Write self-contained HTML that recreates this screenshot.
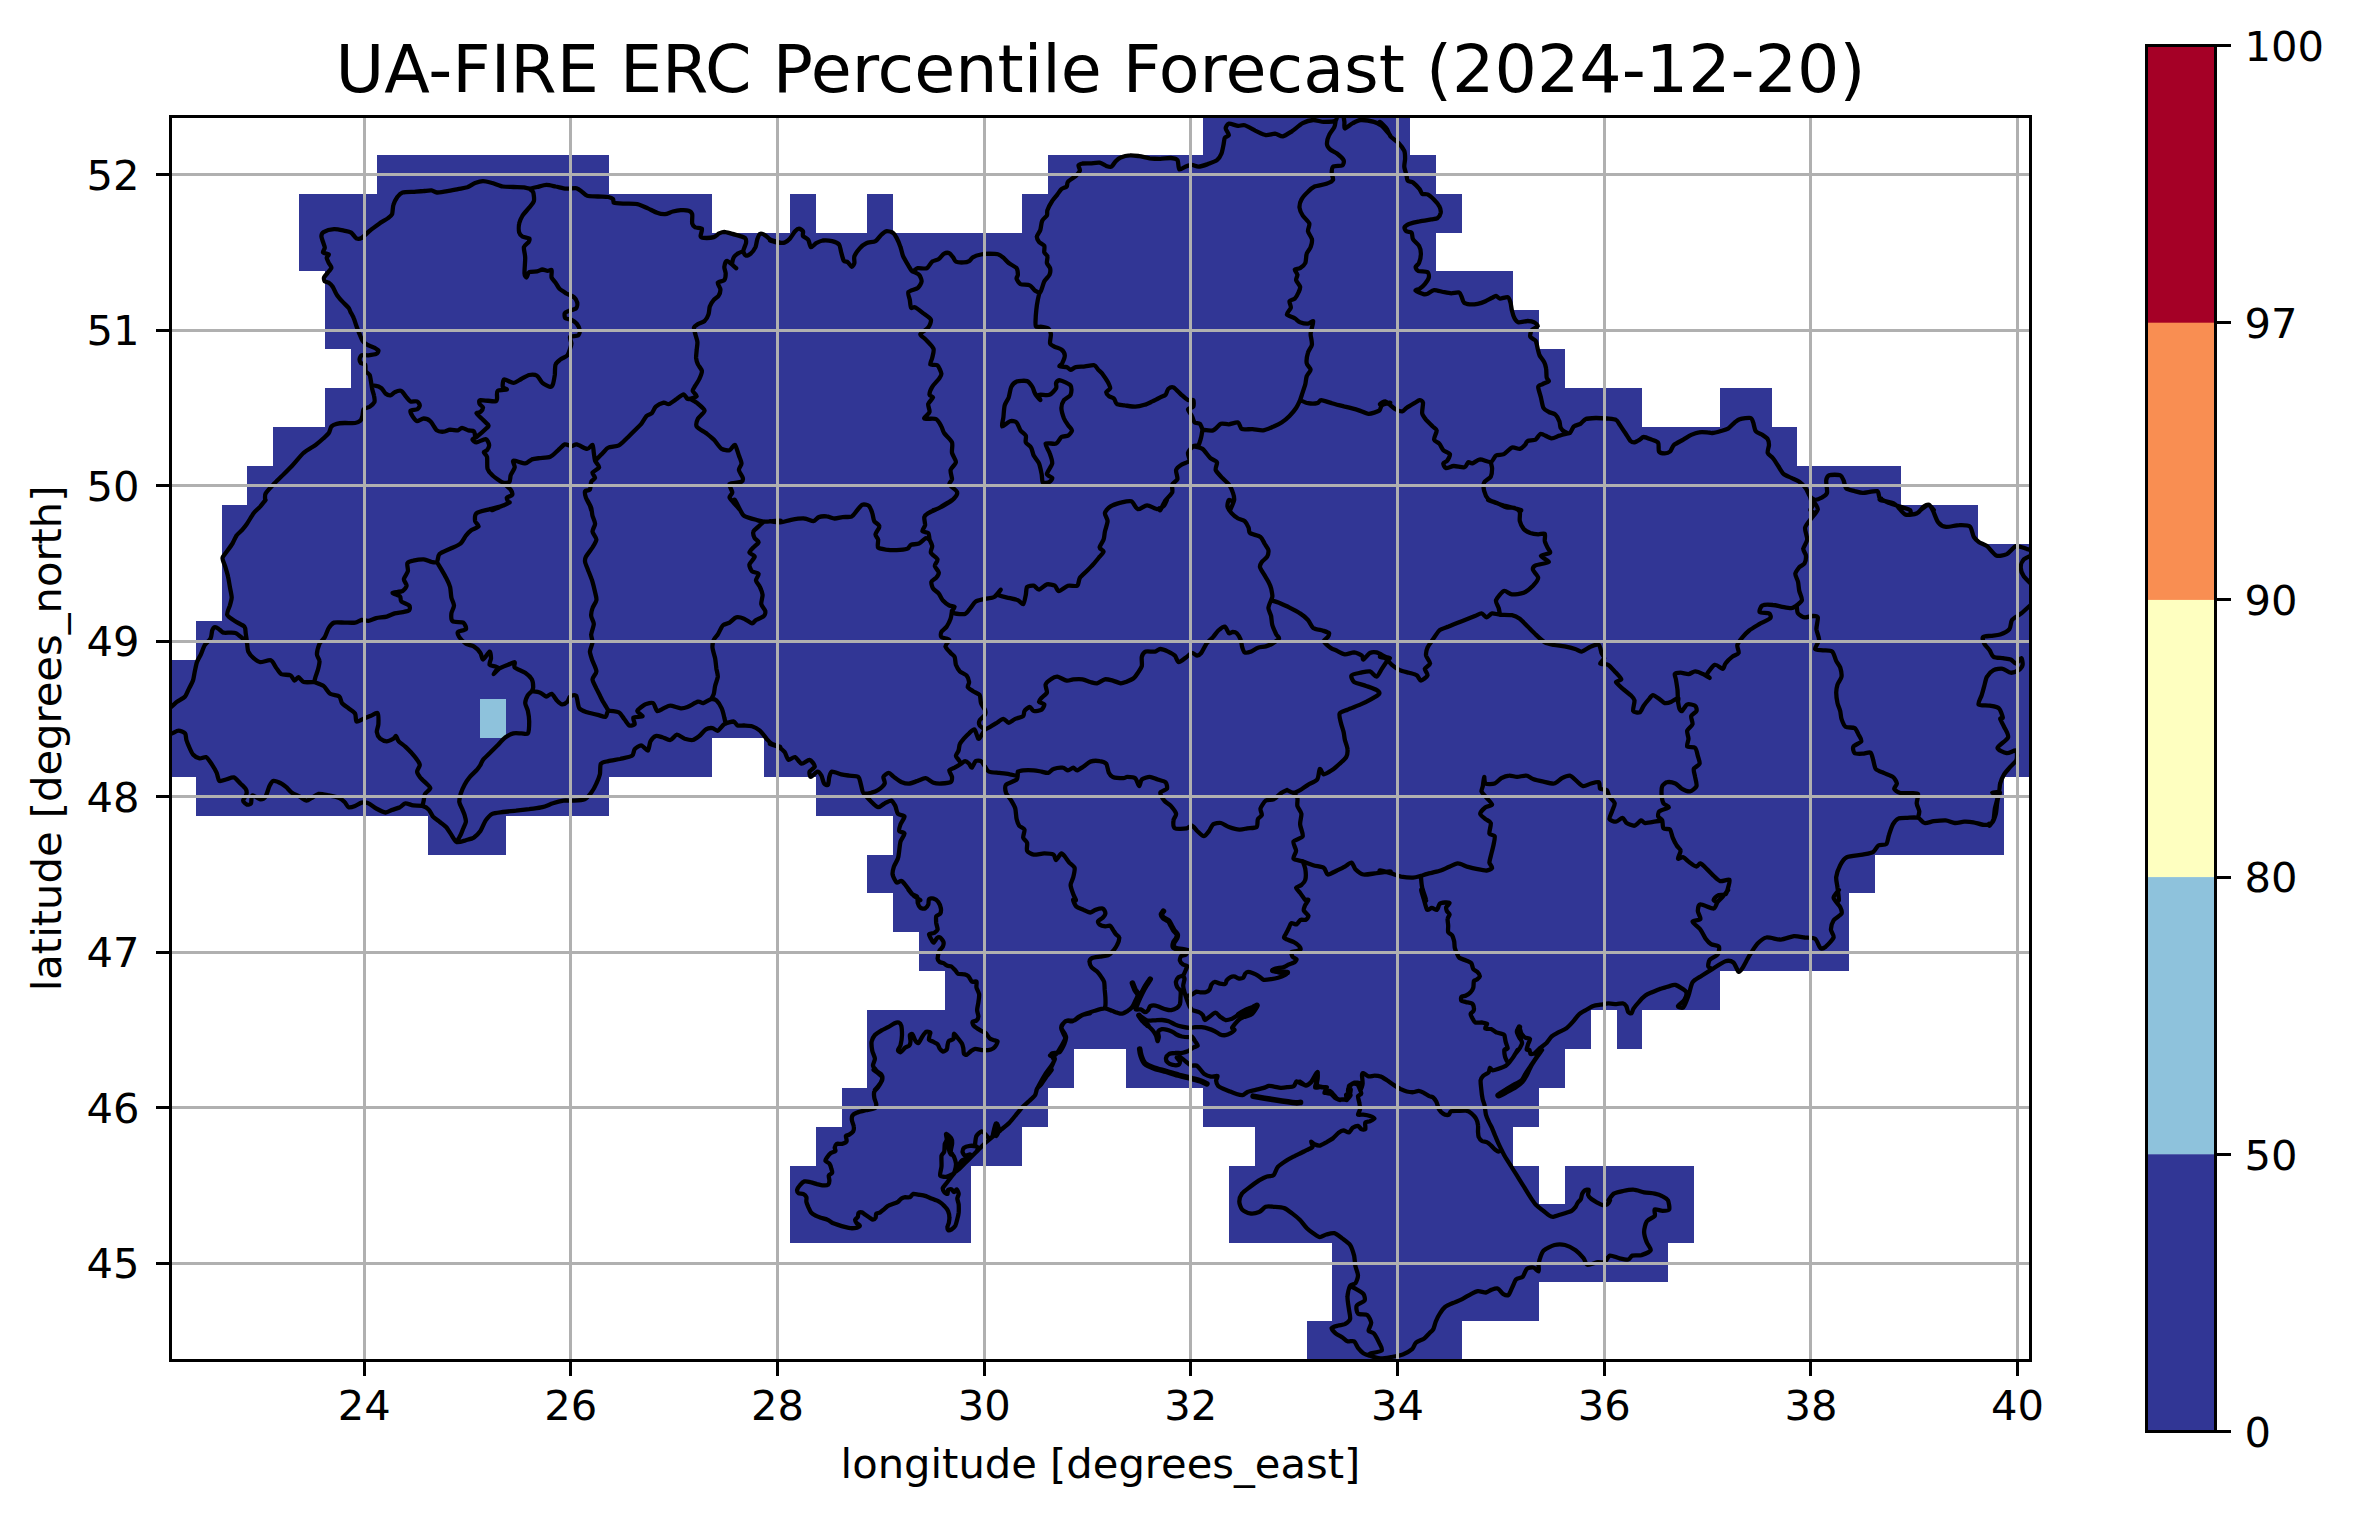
<!DOCTYPE html>
<html><head><meta charset="utf-8"><title>UA-FIRE ERC Percentile Forecast</title>
<style>html,body{margin:0;padding:0;background:#fff}svg{display:block}text{font-family:"DejaVu Sans","Liberation Sans",sans-serif;fill:#000}</style></head>
<body>
<svg width="2354" height="1517" viewBox="0 0 2354 1517">
<rect width="2354" height="1517" fill="#fff"/>
<defs><clipPath id="ax"><rect x="170.4" y="116.4" width="1860.1" height="1244.0"/></clipPath></defs>
<g clip-path="url(#ax)">
<path fill="#313695" shape-rendering="crispEdges" d="M1203 116H1410V155H1203ZM377 155H609V194H377ZM1048 155H1436V194H1048ZM299 194H712V233H299ZM790 194H816V233H790ZM867 194H893V233H867ZM1022 194H1462V233H1022ZM299 233H1436V271H299ZM325 271H1513V310H325ZM325 310H1539V349H325ZM351 349H1565V388H351ZM325 388H1642V427H325ZM1720 388H1772V427H1720ZM273 427H1797V466H273ZM247 466H1901V505H247ZM222 505H1978V544H222ZM222 544H2030V582H222ZM222 582H2030V621H222ZM196 621H2030V660H196ZM170 660H2030V699H170ZM170 699H2030V738H170ZM170 738H712V777H170ZM764 738H2030V777H764ZM196 777H609V816H196ZM816 777H2004V816H816ZM428 816H506V855H428ZM893 816H2004V855H893ZM867 855H1875V893H867ZM893 893H1849V932H893ZM919 932H1849V971H919ZM945 971H1720V1010H945ZM867 1010H1591V1049H867ZM1617 1010H1642V1049H1617ZM867 1049H1074V1088H867ZM1126 1049H1565V1088H1126ZM842 1088H1048V1127H842ZM1203 1088H1539V1127H1203ZM816 1127H1022V1166H816ZM1255 1127H1513V1166H1255ZM790 1166H971V1204H790ZM1229 1166H1539V1204H1229ZM1565 1166H1694V1204H1565ZM790 1204H971V1243H790ZM1229 1204H1694V1243H1229ZM1332 1243H1668V1282H1332ZM1332 1282H1539V1321H1332ZM1307 1321H1462V1360H1307Z"/>
<rect x="480" y="699" width="26" height="39" fill="#8ec2dc" shape-rendering="crispEdges"/>
<path fill="none" stroke="#000" stroke-width="4.3" stroke-linejoin="round" stroke-linecap="round" d="M1075.4 898.9C1075.1 899.1 1073.0 899.0 1073.1 900.0C1073.2 901.0 1075.1 905.4 1076.4 906.6C1077.7 907.8 1081.9 909.1 1083.6 909.9C1085.4 910.6 1088.7 912.5 1090.2 912.5C1091.7 912.5 1093.9 910.4 1095.5 909.9C1097.1 909.4 1101.5 908.2 1102.7 908.6C1104.0 909.0 1105.4 912.0 1105.4 913.2C1105.4 914.3 1103.6 916.8 1102.7 917.8C1101.8 918.8 1098.5 920.3 1098.1 921.1C1097.7 921.9 1098.5 923.7 1099.4 924.4C1100.4 925.1 1104.1 926.2 1105.4 926.4C1106.7 926.5 1109.0 925.2 1110.0 925.7C1111.0 926.2 1112.5 929.3 1113.3 930.3C1114.0 931.4 1115.2 933.4 1115.9 934.3C1116.7 935.2 1119.1 936.3 1119.2 937.6C1119.4 938.9 1118.0 943.2 1117.2 944.8C1116.5 946.5 1114.4 949.4 1113.3 950.8C1112.1 952.1 1109.7 954.6 1108.0 955.4C1106.4 956.1 1102.1 956.4 1100.1 956.7C1098.1 957.0 1093.5 957.4 1092.2 958.0C1090.9 958.6 1089.6 960.2 1089.6 961.3C1089.5 962.5 1090.5 965.9 1091.5 967.2C1092.5 968.6 1096.2 970.6 1097.5 971.9C1098.7 973.1 1100.6 975.9 1101.4 977.1C1102.2 978.4 1103.6 980.2 1104.1 981.8C1104.5 983.3 1104.6 987.7 1104.7 989.7C1104.9 991.6 1105.3 995.6 1105.4 997.6C1105.5 999.6 1105.5 1004.2 1105.4 1005.5C1105.3 1006.8 1104.8 1007.8 1104.7 1008.1M1050.9 1070.9C1050.8 1070.8 1049.6 1071.3 1050.0 1070.1C1050.4 1068.8 1053.6 1062.5 1054.0 1060.9C1054.3 1059.2 1052.3 1057.8 1052.6 1056.9C1053.0 1056.0 1055.5 1054.9 1056.6 1053.6C1057.7 1052.3 1060.1 1048.3 1061.2 1046.4C1062.3 1044.5 1064.9 1040.1 1065.2 1038.4C1065.4 1036.8 1063.7 1034.5 1063.2 1033.2C1062.7 1031.9 1061.0 1029.3 1061.2 1027.9C1061.4 1026.5 1063.8 1022.9 1064.5 1022.0C1065.2 1021.1 1066.2 1020.7 1067.1 1020.6C1068.1 1020.6 1070.9 1021.8 1072.4 1021.3C1073.9 1020.8 1077.2 1017.7 1079.0 1016.7C1080.8 1015.7 1084.9 1014.1 1086.9 1013.4C1088.9 1012.7 1092.6 1011.4 1094.8 1010.8C1097.1 1010.1 1102.6 1008.4 1104.7 1008.4C1106.9 1008.4 1110.4 1010.2 1112.0 1010.8C1113.5 1011.3 1116.0 1012.4 1117.2 1012.7C1118.5 1013.1 1120.5 1013.9 1121.9 1013.7C1123.2 1013.4 1126.6 1011.5 1127.8 1010.8C1129.0 1010.0 1130.8 1008.6 1131.8 1007.5C1132.7 1006.3 1134.3 1003.2 1135.0 1001.5C1135.8 999.8 1138.1 995.4 1138.1 993.9C1138.1 992.4 1135.8 991.0 1135.0 989.7C1134.3 988.3 1132.7 983.9 1132.4 983.1M1052.1 1054.3C1051.8 1054.4 1049.9 1055.3 1050.0 1055.6C1050.1 1055.9 1052.9 1056.7 1053.3 1056.9M1150.2 979.1C1149.5 980.3 1145.6 986.0 1144.3 988.3C1143.0 990.7 1140.7 995.4 1139.7 997.6C1138.7 999.7 1136.9 1004.0 1136.4 1005.5C1135.9 1007.0 1135.1 1008.9 1135.7 1009.4C1136.3 1009.9 1139.8 1009.1 1141.0 1009.4C1142.1 1009.8 1144.0 1012.0 1144.9 1012.1C1145.8 1012.2 1147.6 1010.8 1148.2 1010.1C1148.9 1009.4 1149.3 1006.7 1150.2 1006.1C1151.1 1005.6 1154.2 1005.3 1155.5 1005.5C1156.8 1005.7 1159.4 1007.0 1160.8 1007.5C1162.1 1008.0 1164.7 1009.1 1166.0 1009.4C1167.4 1009.8 1170.0 1010.3 1171.3 1010.1C1172.6 1009.9 1175.5 1008.9 1176.6 1008.1C1177.7 1007.4 1179.4 1005.5 1179.9 1004.2C1180.4 1002.8 1180.5 999.2 1180.5 997.6C1180.6 995.9 1181.0 992.3 1180.5 991.0C1180.1 989.7 1177.8 988.2 1177.2 987.0C1176.7 985.9 1175.8 983.0 1175.9 981.8C1176.1 980.5 1177.7 978.0 1178.6 977.1C1179.5 976.3 1182.3 976.1 1183.2 975.2C1184.1 974.3 1185.3 971.0 1185.8 969.9C1186.3 968.7 1187.5 966.6 1187.1 965.9C1186.8 965.3 1184.1 965.3 1183.2 964.6C1182.3 964.0 1180.1 961.7 1179.9 960.7C1179.6 959.6 1180.5 956.8 1181.2 956.0C1181.9 955.3 1185.0 955.4 1185.8 954.7C1186.6 954.1 1187.5 951.3 1187.8 950.8M1305.3 900.1C1305.7 900.0 1308.5 899.3 1308.4 900.0C1308.4 900.7 1305.7 904.0 1305.1 905.3C1304.6 906.6 1303.4 909.2 1303.8 910.5C1304.2 911.9 1308.2 914.7 1308.4 915.8C1308.7 917.0 1306.8 919.3 1305.8 919.8C1304.8 920.3 1301.7 919.2 1300.5 919.8C1299.4 920.4 1297.7 924.0 1296.6 924.4C1295.4 924.8 1292.3 922.6 1291.3 923.1C1290.3 923.6 1289.3 927.0 1288.7 928.3C1288.0 929.7 1286.6 932.5 1286.0 933.6C1285.4 934.8 1283.9 936.8 1284.0 937.6C1284.2 938.3 1286.1 939.0 1287.3 939.6C1288.6 940.1 1292.5 941.4 1293.9 942.2C1295.4 943.0 1298.4 945.2 1299.2 946.1C1300.0 947.1 1301.0 948.8 1300.5 949.4C1300.0 950.1 1296.4 951.1 1295.3 951.4C1294.1 951.8 1291.6 951.4 1291.3 952.1C1291.0 952.7 1292.0 955.8 1292.6 956.7C1293.3 957.6 1296.4 958.6 1296.6 959.3C1296.7 960.1 1294.9 962.0 1293.9 962.6C1292.9 963.3 1290.0 964.0 1288.7 964.6C1287.3 965.2 1285.0 966.8 1283.4 967.2C1281.7 967.7 1276.8 968.2 1275.5 968.6C1274.2 969.0 1272.3 970.1 1272.8 970.5C1273.3 971.0 1277.6 971.6 1279.4 971.9C1281.2 972.1 1286.7 972.1 1287.3 972.5C1288.0 972.9 1285.9 974.5 1284.7 975.2C1283.6 975.8 1279.8 977.3 1278.1 977.8C1276.5 978.3 1273.3 978.9 1271.5 979.1C1269.7 979.4 1265.3 980.2 1263.6 979.8C1262.0 979.4 1259.7 976.6 1258.3 975.8C1257.0 975.0 1254.4 973.7 1253.1 973.2C1251.7 972.7 1248.8 971.8 1247.8 971.9C1246.8 971.9 1245.7 973.1 1245.1 973.8C1244.6 974.6 1244.0 977.2 1243.2 977.8C1242.3 978.4 1239.6 978.6 1238.6 978.5C1237.5 978.3 1235.6 976.6 1234.6 976.5C1233.6 976.3 1231.6 976.6 1230.6 977.1C1229.7 977.6 1227.3 979.6 1226.7 980.4C1226.0 981.3 1226.2 983.3 1225.4 983.7C1224.5 984.1 1221.4 984.0 1220.1 983.7C1218.8 983.5 1215.9 981.7 1214.8 981.8C1213.7 981.8 1212.2 983.4 1211.5 984.4C1210.9 985.4 1210.3 988.7 1209.5 989.7C1208.8 990.7 1206.7 992.0 1205.6 992.3C1204.4 992.6 1201.5 992.4 1200.3 992.3C1199.2 992.2 1197.3 991.4 1196.4 991.6C1195.4 991.9 1193.2 993.8 1192.4 994.3C1191.6 994.7 1190.6 994.9 1189.8 995.2C1189.0 995.5 1186.4 996.3 1185.9 996.5M1183.2 975.2C1183.3 975.7 1184.5 977.8 1184.5 979.1C1184.5 980.4 1183.2 984.1 1183.2 985.7C1183.2 987.4 1184.0 990.5 1184.5 992.3C1185.0 994.1 1186.5 998.4 1187.1 1000.2C1187.8 1002.0 1189.1 1005.6 1189.8 1006.8C1190.4 1008.0 1191.3 1009.4 1192.4 1010.1C1193.6 1010.8 1197.7 1011.4 1199.0 1012.1C1200.3 1012.7 1202.2 1014.4 1203.0 1015.4C1203.7 1016.4 1204.1 1019.8 1204.9 1020.0C1205.8 1020.2 1208.2 1017.6 1209.5 1016.7C1210.9 1015.8 1214.2 1012.7 1215.5 1012.7C1216.8 1012.7 1218.9 1015.8 1220.1 1016.7C1221.3 1017.6 1223.9 1019.7 1225.4 1020.0C1226.9 1020.2 1230.3 1019.3 1232.0 1018.7C1233.6 1018.0 1236.7 1015.8 1238.6 1014.7C1240.4 1013.6 1244.7 1011.0 1246.5 1010.1C1248.3 1009.2 1251.7 1008.0 1253.1 1007.5C1254.4 1006.9 1257.2 1004.7 1257.0 1005.5C1256.8 1006.2 1253.2 1012.1 1251.7 1013.4C1250.3 1014.7 1246.8 1015.2 1245.1 1016.0C1243.5 1016.9 1240.0 1018.8 1238.6 1020.0C1237.2 1021.1 1234.8 1024.3 1233.9 1025.3C1233.1 1026.3 1231.9 1027.3 1232.0 1027.9C1232.0 1028.5 1234.8 1029.2 1234.6 1029.9C1234.4 1030.5 1231.8 1032.5 1230.6 1033.2C1229.5 1033.8 1226.7 1035.0 1225.4 1035.2C1224.1 1035.3 1221.4 1035.0 1220.1 1034.5C1218.8 1034.0 1216.3 1031.9 1214.8 1031.2C1213.3 1030.5 1209.9 1029.1 1208.2 1028.6C1206.6 1028.1 1203.3 1027.4 1201.6 1027.2C1200.0 1027.1 1196.5 1027.2 1195.0 1027.2C1193.6 1027.3 1191.4 1028.0 1189.8 1027.9C1188.1 1027.8 1183.7 1027.0 1181.9 1026.6C1180.0 1026.2 1176.9 1025.3 1175.3 1024.6C1173.6 1023.9 1170.3 1021.9 1168.7 1021.3C1167.0 1020.7 1163.7 1020.1 1162.1 1020.0C1160.4 1019.9 1157.3 1020.2 1155.5 1020.3C1153.7 1020.3 1149.2 1021.0 1147.6 1020.6C1145.9 1020.3 1143.4 1018.0 1142.3 1017.4C1141.2 1016.7 1139.4 1015.6 1139.0 1015.4M1139.0 1015.4C1139.4 1016.0 1141.2 1018.8 1142.3 1020.0C1143.4 1021.2 1146.3 1023.9 1147.6 1025.3C1148.9 1026.6 1151.8 1029.2 1152.8 1030.5C1153.9 1031.9 1155.6 1034.5 1156.1 1035.8C1156.7 1037.1 1157.1 1040.9 1157.5 1041.1C1157.8 1041.3 1158.7 1038.3 1158.8 1037.1C1158.9 1036.0 1157.7 1032.8 1158.1 1031.9C1158.5 1030.9 1160.9 1029.5 1162.1 1029.2C1163.2 1029.0 1166.0 1029.5 1167.4 1029.9C1168.7 1030.2 1171.5 1031.3 1172.6 1031.9C1173.8 1032.4 1175.4 1033.9 1176.6 1034.5C1177.7 1035.1 1180.4 1036.1 1181.9 1036.5C1183.3 1036.8 1187.2 1037.1 1188.4 1037.1C1189.7 1037.1 1190.9 1036.0 1191.7 1036.5C1192.6 1037.0 1194.3 1039.9 1195.0 1041.1C1195.8 1042.2 1197.9 1044.9 1197.7 1045.7C1197.4 1046.5 1194.2 1047.0 1193.1 1047.7C1191.9 1048.3 1189.9 1050.3 1188.4 1051.0C1187.0 1051.6 1183.5 1052.7 1181.9 1053.0C1180.2 1053.2 1176.9 1052.8 1175.3 1053.0C1173.6 1053.1 1169.8 1053.6 1168.7 1054.3C1167.5 1054.9 1166.2 1057.2 1166.0 1058.2C1165.9 1059.2 1166.5 1061.4 1167.4 1062.2C1168.2 1063.0 1171.2 1064.5 1172.6 1064.8C1174.0 1065.2 1177.7 1065.2 1178.6 1064.8C1179.5 1064.4 1180.1 1062.4 1179.9 1061.5C1179.6 1060.6 1176.6 1058.1 1176.6 1057.6C1176.6 1057.0 1178.7 1056.4 1179.9 1056.9C1181.0 1057.4 1184.4 1060.5 1185.8 1061.5C1187.2 1062.6 1189.8 1065.0 1191.1 1065.5C1192.4 1066.0 1195.2 1065.0 1196.4 1065.5C1197.5 1066.0 1199.3 1068.4 1200.3 1069.4C1201.3 1070.5 1203.0 1073.1 1204.3 1074.1C1205.6 1075.0 1209.2 1076.4 1210.9 1076.7C1212.5 1076.9 1216.8 1075.5 1217.5 1076.0C1218.1 1076.5 1216.1 1079.4 1216.1 1080.6C1216.2 1081.9 1217.3 1084.9 1218.1 1085.9C1218.9 1086.9 1221.3 1087.9 1222.7 1088.6C1224.1 1089.2 1227.7 1090.5 1229.3 1091.2C1231.0 1091.9 1234.3 1093.3 1235.9 1093.8C1237.6 1094.3 1241.0 1095.4 1242.5 1095.1C1244.0 1094.9 1246.1 1092.5 1247.8 1091.9C1249.4 1091.2 1253.7 1090.4 1255.7 1089.9C1257.7 1089.4 1262.0 1088.4 1263.6 1087.9C1265.3 1087.4 1267.6 1086.1 1268.9 1085.9C1270.2 1085.8 1272.7 1086.3 1274.2 1086.6C1275.6 1086.8 1279.1 1087.8 1280.7 1087.9C1282.4 1088.0 1285.7 1087.5 1287.3 1087.2C1289.0 1087.0 1292.8 1086.7 1293.9 1085.9C1295.1 1085.2 1295.7 1081.6 1296.6 1081.3C1297.4 1081.0 1299.4 1082.8 1300.5 1083.3C1301.7 1083.8 1304.5 1085.4 1305.8 1085.3C1307.1 1085.1 1309.9 1083.2 1311.1 1082.0C1312.2 1080.7 1314.2 1076.6 1315.0 1075.4C1315.9 1074.1 1317.3 1071.7 1317.7 1072.1C1318.0 1072.4 1317.8 1076.4 1317.7 1078.0C1317.6 1079.6 1316.5 1083.4 1317.0 1084.6C1317.5 1085.8 1320.4 1086.9 1321.6 1087.2C1322.9 1087.6 1326.5 1086.6 1326.9 1087.2C1327.3 1087.9 1324.4 1091.7 1324.9 1092.5C1325.4 1093.3 1329.6 1093.2 1330.9 1093.8C1332.1 1094.5 1333.7 1097.0 1334.8 1097.8C1336.0 1098.6 1339.4 1099.7 1340.1 1100.0M1358.0 1084.9C1358.3 1084.7 1360.4 1083.6 1360.0 1083.3C1359.6 1083.0 1355.8 1082.3 1354.6 1082.6C1353.3 1083.0 1350.8 1084.8 1350.0 1085.9C1349.1 1087.0 1347.9 1090.0 1348.0 1091.2C1348.1 1092.3 1350.8 1094.0 1350.6 1095.1C1350.5 1096.3 1347.2 1099.4 1346.7 1100.0M908.6 890.0C909.0 890.5 910.8 893.1 911.9 894.0C912.9 894.8 916.4 895.4 917.1 896.6C917.9 897.7 917.4 901.8 917.8 903.2C918.2 904.6 919.5 907.1 920.4 907.8C921.3 908.5 924.1 908.9 925.0 908.5C926.0 908.0 927.8 905.7 928.3 904.5C928.8 903.4 928.3 900.0 929.0 899.2C929.7 898.5 932.5 898.2 933.6 898.6C934.8 898.9 937.3 900.6 938.2 901.9C939.1 903.1 940.6 907.0 940.9 908.5C941.1 909.9 940.8 912.7 940.2 913.7C939.6 914.7 936.7 915.2 936.2 916.4C935.8 917.5 936.1 921.3 936.2 923.0C936.4 924.6 937.8 928.3 937.6 929.6C937.3 930.8 935.3 932.3 934.3 932.9C933.2 933.4 929.4 933.4 929.0 934.2C928.6 934.9 930.4 937.7 931.0 938.8C931.6 939.9 932.9 942.8 933.6 942.7C934.4 942.7 936.1 938.8 936.9 938.1C937.7 937.5 939.4 937.0 940.2 937.5C941.0 938.0 943.2 940.9 943.5 942.1C943.8 943.2 943.3 945.6 942.8 946.7C942.3 947.8 940.2 949.2 939.5 950.7C938.9 952.1 937.6 957.2 937.6 958.6C937.6 960.0 938.8 961.3 939.5 961.9C940.3 962.4 942.5 962.7 943.5 963.2C944.5 963.7 946.5 965.4 947.5 965.8C948.4 966.2 950.4 965.9 951.4 966.5C952.4 967.1 954.5 969.5 955.4 970.4C956.2 971.3 956.9 973.2 958.0 973.7C959.2 974.2 963.3 974.1 964.6 974.4C965.9 974.7 967.6 975.5 968.6 976.4C969.5 977.3 970.9 981.0 971.9 981.6C972.8 982.3 975.9 980.9 976.5 981.6C977.0 982.4 976.1 986.0 976.5 987.6C976.8 989.1 978.9 992.4 979.1 994.2C979.4 996.0 978.7 1000.1 978.4 1002.1C978.2 1004.1 977.1 1008.2 977.1 1010.0C977.1 1011.8 978.5 1015.3 978.4 1016.6C978.4 1017.9 977.2 1019.9 976.5 1020.5C975.7 1021.2 972.8 1021.2 972.5 1021.9C972.2 1022.5 972.8 1024.7 973.8 1025.8C974.8 1026.9 978.9 1029.5 980.4 1030.4C981.9 1031.3 984.5 1032.1 985.7 1033.1C986.8 1034.1 988.6 1037.4 989.7 1038.3C990.7 1039.2 993.3 1039.9 994.3 1040.3C995.3 1040.7 997.5 1040.8 997.6 1041.6C997.6 1042.5 995.8 1045.9 994.9 1046.9C994.1 1047.9 992.5 1049.1 991.0 1049.5C989.5 1050.0 985.0 1050.3 983.1 1050.2C981.1 1050.1 976.7 1048.7 975.1 1048.9C973.6 1049.1 971.6 1050.8 970.5 1051.5C969.5 1052.3 967.4 1054.6 966.6 1054.8C965.8 1055.1 964.4 1054.3 963.9 1053.5C963.5 1052.7 963.5 1049.5 963.3 1048.2C963.0 1047.0 962.6 1044.8 962.0 1043.6C961.3 1042.4 959.0 1039.6 958.0 1038.3C957.0 1037.1 954.6 1033.6 954.1 1033.7C953.5 1033.8 954.1 1038.1 953.4 1039.0C952.7 1039.9 949.5 1040.2 948.8 1041.0C948.0 1041.8 947.7 1044.5 947.5 1045.6C947.2 1046.7 947.4 1048.8 946.8 1049.5C946.2 1050.3 943.7 1051.7 942.8 1051.5C941.9 1051.4 940.2 1049.1 939.5 1048.2C938.9 1047.3 938.4 1045.1 937.6 1044.3C936.7 1043.4 934.0 1042.2 933.0 1041.6C931.9 1041.1 929.4 1040.5 929.0 1039.7C928.6 1038.8 929.5 1035.9 929.7 1035.0C929.8 1034.1 930.7 1032.8 930.3 1032.4C929.9 1032.0 927.3 1031.3 926.4 1031.7C925.4 1032.2 923.4 1035.0 922.4 1036.4C921.4 1037.8 919.4 1042.5 918.4 1043.0C917.5 1043.4 915.9 1041.4 915.2 1040.3C914.4 1039.2 913.2 1035.0 912.5 1034.4C911.9 1033.7 910.1 1034.1 909.9 1035.0C909.6 1035.9 910.6 1040.3 910.5 1041.6C910.5 1043.0 909.9 1044.8 909.2 1045.6C908.6 1046.3 906.3 1046.7 905.3 1047.6C904.2 1048.4 901.6 1051.9 900.6 1052.2C899.7 1052.5 898.0 1051.1 898.0 1050.2C898.0 1049.3 900.2 1046.8 900.6 1044.9C901.1 1043.0 901.9 1037.4 902.0 1035.0C902.0 1032.7 901.7 1027.4 901.3 1025.8C900.9 1024.2 899.5 1022.8 898.7 1022.5C897.8 1022.2 896.0 1022.6 894.7 1023.2C893.4 1023.8 889.8 1026.2 888.1 1027.1C886.5 1028.0 883.2 1029.4 881.5 1030.4C879.9 1031.4 876.2 1033.6 874.9 1035.0C873.7 1036.4 872.0 1039.7 871.6 1041.6C871.3 1043.6 871.9 1048.7 872.3 1050.9C872.7 1053.0 874.9 1057.0 874.9 1058.8C875.0 1060.6 872.8 1063.9 873.0 1065.4C873.1 1066.9 875.2 1069.5 876.3 1070.6C877.3 1071.8 880.8 1073.4 881.5 1074.6C882.3 1075.8 882.5 1078.6 882.2 1079.9C881.9 1081.2 879.8 1083.9 878.9 1085.1C878.0 1086.4 875.4 1089.4 874.9 1090.0M1090.0 1013.3C1089.0 1013.5 1083.9 1014.4 1082.0 1015.3C1080.0 1016.2 1075.9 1019.9 1074.0 1020.5C1072.2 1021.2 1068.9 1020.0 1067.4 1020.5C1066.0 1021.0 1062.9 1023.5 1062.2 1024.5C1061.4 1025.5 1061.2 1027.3 1061.5 1028.4C1061.8 1029.6 1064.2 1032.6 1064.8 1033.7C1065.4 1034.9 1066.2 1036.4 1066.1 1037.7C1066.0 1039.0 1065.0 1042.5 1064.2 1044.3C1063.3 1046.1 1061.1 1051.0 1059.5 1052.2C1058.0 1053.3 1052.2 1052.7 1051.6 1053.5C1051.0 1054.3 1054.9 1057.3 1054.9 1058.8C1054.9 1060.3 1052.9 1063.4 1051.6 1065.4C1050.4 1067.3 1046.5 1072.3 1045.0 1074.6C1043.5 1076.9 1040.8 1081.9 1039.8 1083.8C1038.7 1085.8 1036.9 1089.3 1036.5 1090.0M875.2 1069.0C875.0 1069.1 873.2 1069.5 873.6 1070.0C874.0 1070.5 877.2 1072.4 878.2 1073.3C879.3 1074.2 881.9 1076.1 882.2 1077.3C882.5 1078.4 881.4 1081.2 880.9 1082.5C880.3 1083.8 878.4 1086.6 877.6 1087.8C876.7 1089.0 874.7 1090.5 874.3 1091.8C873.9 1093.0 874.0 1096.1 874.3 1097.7C874.5 1099.3 876.2 1103.0 876.3 1104.3C876.3 1105.6 876.3 1107.5 874.9 1108.2C873.6 1109.0 868.0 1109.6 865.7 1110.2C863.4 1110.8 858.1 1112.2 856.5 1112.9C854.8 1113.5 853.1 1114.6 852.5 1115.5C851.9 1116.4 851.7 1118.7 851.9 1120.1C852.0 1121.5 853.7 1125.3 853.8 1126.7C854.0 1128.1 853.8 1130.3 853.2 1131.3C852.6 1132.3 850.1 1134.0 849.2 1134.6C848.3 1135.2 846.3 1135.1 845.9 1135.9C845.6 1136.8 847.1 1140.2 846.6 1141.2C846.1 1142.2 843.2 1143.5 842.0 1143.8C840.7 1144.2 837.6 1143.3 836.7 1143.8C835.8 1144.3 834.9 1146.9 834.7 1147.8C834.6 1148.7 835.9 1150.4 835.4 1151.1C834.9 1151.8 831.8 1152.2 830.8 1153.1C829.7 1153.9 827.5 1156.7 826.8 1157.7C826.1 1158.7 825.2 1160.2 825.5 1161.0C825.8 1161.7 828.7 1162.6 829.4 1163.6C830.2 1164.6 831.1 1167.7 831.4 1168.9C831.8 1170.0 832.4 1172.0 832.1 1172.8C831.8 1173.7 829.1 1174.5 828.8 1175.5C828.5 1176.5 829.5 1179.6 829.4 1180.8C829.4 1181.9 828.9 1184.1 828.1 1184.7C827.4 1185.3 824.9 1185.5 823.5 1185.4C822.1 1185.3 818.6 1184.5 816.9 1184.1C815.3 1183.6 811.9 1182.4 810.3 1182.1C808.8 1181.7 805.7 1181.0 804.4 1181.4C803.1 1181.8 800.7 1184.3 799.8 1185.4C798.9 1186.4 797.3 1189.0 797.1 1190.0C797.0 1191.0 797.7 1192.8 798.5 1193.3C799.2 1193.8 802.1 1193.5 803.1 1193.9C804.1 1194.4 806.0 1196.3 806.4 1197.2C806.8 1198.2 806.1 1200.6 806.4 1201.9C806.6 1203.1 807.8 1205.8 808.3 1207.1C808.9 1208.4 810.1 1211.3 811.0 1212.4C811.9 1213.5 814.4 1215.0 815.6 1215.7C816.8 1216.4 819.4 1217.2 820.9 1217.7C822.4 1218.2 826.0 1219.0 827.5 1219.7C829.0 1220.3 831.4 1222.3 832.7 1223.0C834.1 1223.6 836.5 1224.4 838.0 1224.9C839.5 1225.4 843.0 1226.5 844.6 1226.9C846.2 1227.3 849.0 1228.1 850.5 1228.2C852.1 1228.3 856.0 1227.9 857.1 1227.6C858.3 1227.2 859.9 1226.2 859.8 1225.6C859.7 1225.0 857.1 1223.7 856.5 1223.0C855.9 1222.2 855.0 1220.4 855.2 1219.7C855.3 1218.9 857.4 1217.8 857.8 1217.0C858.2 1216.2 858.0 1213.6 858.5 1213.1C858.9 1212.5 860.8 1212.2 861.8 1212.4C862.7 1212.7 864.7 1214.4 865.7 1215.0C866.7 1215.7 868.8 1217.1 869.7 1217.7C870.6 1218.3 872.2 1219.7 873.0 1219.7C873.7 1219.7 875.2 1218.4 875.6 1217.7C876.0 1216.9 875.7 1214.4 876.3 1213.7C876.8 1213.1 879.2 1213.0 880.2 1212.4C881.2 1211.8 883.2 1209.9 884.2 1209.1C885.2 1208.3 887.0 1206.5 888.1 1205.8C889.3 1205.2 892.2 1204.3 893.4 1203.8C894.6 1203.3 897.0 1202.5 898.0 1201.9C899.0 1201.2 900.4 1199.1 901.3 1198.6C902.2 1198.0 904.2 1197.4 905.3 1197.2C906.3 1197.1 908.9 1197.7 909.9 1197.2C910.9 1196.8 912.1 1194.3 913.2 1193.9C914.2 1193.6 917.0 1194.4 918.4 1194.6C919.9 1194.9 923.4 1195.4 925.0 1195.9C926.7 1196.4 929.8 1197.8 931.6 1198.6C933.4 1199.3 937.9 1200.9 939.5 1201.9C941.2 1202.8 943.7 1205.3 944.8 1206.5C945.9 1207.6 947.5 1209.7 948.1 1211.1C948.7 1212.5 949.4 1216.2 949.4 1217.7C949.5 1219.2 949.0 1221.8 948.8 1223.0C948.5 1224.1 947.5 1226.0 947.5 1226.9C947.4 1227.8 947.6 1229.9 948.1 1230.2C948.6 1230.5 950.5 1230.1 951.4 1229.5C952.3 1229.0 954.6 1226.9 955.4 1225.6C956.1 1224.3 956.9 1220.6 957.3 1219.0C957.8 1217.3 958.5 1214.2 958.7 1212.4C958.8 1210.6 958.8 1206.2 958.7 1204.5C958.5 1202.8 957.3 1199.9 957.3 1198.6C957.3 1197.2 958.7 1195.1 958.7 1193.9C958.6 1192.8 957.3 1189.6 956.7 1189.3C956.1 1189.1 954.7 1192.0 954.1 1192.0C953.4 1192.0 952.2 1189.6 951.4 1189.3C950.7 1189.1 948.6 1189.4 948.1 1190.0C947.6 1190.6 948.0 1193.7 947.5 1193.9C947.0 1194.2 944.7 1192.7 944.2 1192.0C943.6 1191.2 942.5 1189.2 942.8 1188.0C943.2 1186.9 945.8 1184.1 946.8 1182.7C947.8 1181.4 949.8 1178.6 950.8 1177.5C951.7 1176.3 953.6 1174.0 954.1 1173.5M1050.3 1069.4C1050.5 1069.5 1052.1 1069.1 1051.6 1070.0C1051.1 1070.9 1047.7 1074.8 1046.4 1076.6C1045.0 1078.4 1042.2 1083.0 1041.1 1084.5C1039.9 1086.0 1037.9 1087.1 1037.1 1088.5C1036.4 1089.8 1036.1 1093.5 1035.1 1095.1C1034.2 1096.6 1030.8 1099.5 1029.2 1101.0C1027.6 1102.5 1024.3 1105.2 1022.6 1106.9C1021.0 1108.7 1017.7 1112.9 1016.0 1114.8C1014.4 1116.8 1011.2 1120.9 1009.4 1122.7C1007.6 1124.6 1003.5 1127.7 1001.5 1129.3C999.5 1131.0 995.6 1134.3 993.6 1135.9C991.6 1137.6 987.7 1140.7 985.7 1142.5C983.7 1144.3 979.6 1148.6 977.8 1150.4C976.0 1152.2 972.8 1155.4 971.2 1157.0C969.5 1158.7 966.1 1162.1 964.6 1163.6C963.1 1165.1 960.6 1167.7 959.3 1168.9C958.0 1170.0 954.7 1172.4 954.1 1172.8M946.1 1134.0C946.7 1133.8 950.7 1137.3 951.4 1138.6C952.2 1139.8 952.2 1142.2 952.1 1143.8C952.0 1145.5 950.5 1150.1 950.8 1151.8C951.0 1153.4 953.4 1155.5 954.1 1157.0C954.7 1158.5 955.9 1161.8 956.0 1163.6C956.1 1165.4 955.1 1170.2 954.7 1171.5C954.3 1172.8 953.8 1173.5 952.7 1174.2C951.7 1174.8 947.7 1176.6 946.1 1176.8C944.6 1177.0 940.8 1176.8 940.2 1175.5C939.6 1174.2 941.4 1168.7 941.5 1166.3C941.7 1163.8 941.2 1157.5 941.5 1155.7C941.9 1153.9 943.7 1153.2 944.2 1151.8C944.6 1150.3 944.5 1145.3 944.8 1143.8C945.2 1142.4 946.6 1141.1 946.8 1139.9C947.0 1138.6 945.6 1134.1 946.1 1134.0M946.5 1140.4C946.7 1140.5 947.8 1140.1 948.1 1141.2C948.4 1142.3 948.4 1147.5 948.8 1149.1C949.1 1150.8 950.4 1153.8 950.8 1154.4C951.1 1155.0 951.8 1153.7 951.9 1153.6M954.1 1172.8C954.5 1172.2 956.4 1169.1 957.3 1167.6C958.3 1166.1 960.1 1162.1 961.3 1161.0C962.5 1159.8 965.7 1159.2 967.2 1158.3C968.8 1157.5 972.5 1155.5 973.8 1154.4C975.1 1153.2 977.5 1150.1 977.8 1149.1C978.1 1148.1 977.5 1146.9 976.5 1146.5C975.5 1146.1 971.4 1145.7 969.9 1145.8C968.3 1146.0 964.8 1147.0 963.9 1147.8C963.0 1148.6 962.5 1151.4 962.6 1152.4C962.8 1153.4 964.4 1155.5 965.3 1155.7C966.2 1156.0 969.2 1154.3 969.9 1154.4C970.6 1154.4 970.8 1155.9 970.9 1156.1M974.9 1146.3C974.9 1146.0 975.0 1145.1 975.1 1143.8C975.3 1142.5 975.6 1137.5 976.5 1135.9C977.3 1134.4 980.6 1131.5 981.7 1131.3C982.9 1131.1 984.7 1133.7 985.7 1134.6C986.7 1135.5 988.7 1138.6 989.7 1138.6C990.6 1138.6 992.8 1136.4 993.6 1134.6C994.4 1132.8 995.6 1124.6 996.2 1124.1C996.9 1123.6 998.9 1129.2 998.9 1130.7C998.9 1132.1 996.7 1135.4 996.2 1135.9C995.8 1136.4 995.3 1134.8 995.2 1134.6M1422.8 889.5C1422.6 889.6 1421.1 888.8 1421.2 890.0C1421.3 891.2 1423.1 896.8 1423.8 899.2C1424.6 901.7 1426.1 908.7 1427.1 909.8C1428.1 910.8 1430.5 907.8 1431.8 907.8C1433.0 907.8 1436.0 910.3 1437.0 909.8C1438.0 909.3 1438.7 904.8 1439.7 903.8C1440.7 902.9 1443.7 902.6 1444.9 902.5C1446.2 902.4 1449.4 902.6 1449.6 903.2C1449.7 903.8 1446.6 906.2 1446.3 907.1C1445.9 908.1 1446.5 910.2 1446.9 911.1C1447.3 912.0 1449.5 913.4 1449.6 914.4C1449.6 915.4 1447.7 917.6 1447.6 919.0C1447.4 920.4 1448.2 924.0 1448.2 925.6C1448.3 927.2 1447.7 931.0 1448.2 932.2C1448.7 933.4 1451.4 934.3 1452.2 935.5C1452.9 936.6 1453.8 939.9 1454.2 941.4C1454.5 943.0 1454.4 946.4 1454.8 948.0C1455.2 949.7 1456.9 953.4 1457.5 954.6C1458.0 955.8 1458.4 957.2 1459.4 957.9C1460.5 958.6 1464.6 959.9 1466.0 960.5C1467.5 961.2 1470.4 962.1 1471.3 963.2C1472.2 964.3 1472.5 968.0 1473.3 969.1C1474.0 970.2 1476.4 970.8 1477.2 971.8C1478.1 972.7 1480.0 975.4 1479.9 976.4C1479.8 977.4 1477.3 979.1 1476.6 979.7C1475.8 980.2 1474.4 980.0 1473.9 981.0C1473.5 982.0 1473.7 986.2 1473.3 987.6C1472.9 989.0 1471.6 991.2 1470.6 992.2C1469.7 993.2 1467.2 994.9 1466.0 995.5C1464.9 996.1 1462.0 996.1 1461.4 996.8C1460.8 997.5 1460.8 1000.1 1461.4 1000.8C1462.0 1001.4 1464.7 1001.7 1466.0 1002.1C1467.4 1002.4 1471.0 1002.7 1472.0 1003.4C1473.0 1004.1 1473.8 1007.0 1473.9 1008.0C1474.1 1009.0 1473.7 1010.6 1473.3 1011.3C1472.9 1012.0 1470.7 1013.0 1470.6 1013.9C1470.6 1014.9 1472.0 1017.5 1472.6 1018.6C1473.2 1019.6 1474.1 1022.0 1475.3 1022.5C1476.4 1023.0 1480.4 1022.4 1481.9 1022.5C1483.3 1022.7 1486.7 1023.1 1487.1 1023.8C1487.5 1024.6 1484.7 1027.8 1485.2 1028.4C1485.6 1029.1 1489.7 1028.6 1491.1 1029.1C1492.5 1029.6 1495.0 1031.8 1496.4 1032.4C1497.7 1033.0 1500.6 1033.4 1501.6 1033.7C1502.6 1034.1 1503.8 1034.1 1504.3 1035.0C1504.8 1036.0 1505.2 1040.0 1505.6 1041.6C1506.0 1043.3 1507.7 1047.2 1507.6 1048.2C1507.4 1049.3 1504.8 1049.8 1504.4 1050.0M1660.0 988.9C1659.0 989.3 1653.8 991.4 1652.0 992.2C1650.1 993.0 1647.0 994.2 1645.4 995.5C1643.7 996.7 1640.2 1000.4 1638.8 1002.1C1637.3 1003.7 1634.4 1007.3 1633.5 1008.7C1632.6 1010.1 1632.2 1012.9 1631.5 1013.3C1630.9 1013.7 1628.9 1012.9 1628.2 1012.0C1627.6 1011.1 1626.9 1007.1 1626.2 1006.0C1625.6 1005.0 1624.2 1003.6 1622.9 1003.4C1621.7 1003.1 1618.2 1004.1 1616.4 1004.1C1614.5 1004.1 1610.4 1003.3 1608.4 1003.4C1606.5 1003.5 1602.4 1004.4 1600.5 1004.7C1598.6 1005.0 1595.1 1005.4 1593.3 1006.0C1591.5 1006.7 1587.8 1008.9 1586.0 1010.0C1584.2 1011.1 1580.4 1013.1 1578.8 1014.6C1577.1 1016.1 1574.4 1020.1 1572.8 1021.9C1571.3 1023.6 1568.1 1027.1 1566.2 1028.4C1564.4 1029.8 1560.1 1031.4 1558.3 1032.4C1556.5 1033.4 1553.2 1035.0 1551.7 1036.4C1550.3 1037.7 1547.9 1041.5 1546.5 1043.0C1545.0 1044.4 1541.4 1046.9 1539.9 1048.2C1538.4 1049.5 1535.3 1052.8 1534.6 1053.5M1515.5 1053.5C1516.1 1052.8 1519.3 1048.9 1520.1 1047.6C1520.9 1046.2 1522.1 1044.2 1522.1 1043.0C1522.1 1041.7 1520.7 1039.1 1520.1 1037.7C1519.5 1036.3 1517.5 1033.1 1517.5 1031.7C1517.4 1030.4 1518.9 1026.9 1519.4 1027.1C1519.9 1027.4 1520.7 1032.4 1521.4 1033.7C1522.2 1035.0 1524.3 1037.0 1525.4 1037.7C1526.4 1038.3 1529.7 1038.2 1530.0 1039.0C1530.3 1039.8 1528.4 1043.0 1528.0 1044.3C1527.6 1045.6 1526.5 1048.8 1526.7 1049.5C1526.9 1050.3 1529.1 1049.9 1529.4 1050.0M1299.5 1082.7C1299.5 1082.6 1299.2 1081.3 1300.0 1081.6C1300.8 1082.0 1304.5 1085.5 1305.9 1085.6C1307.3 1085.7 1310.1 1083.4 1311.2 1082.3C1312.3 1081.2 1313.7 1078.3 1314.5 1077.0C1315.3 1075.8 1317.6 1071.8 1317.8 1072.4C1318.0 1073.0 1316.8 1079.8 1316.5 1081.6C1316.2 1083.5 1314.6 1086.9 1315.2 1087.6C1315.7 1088.2 1319.7 1086.8 1321.1 1086.9C1322.5 1087.0 1326.0 1087.5 1326.4 1088.2C1326.8 1089.0 1324.0 1092.5 1324.4 1092.9C1324.8 1093.2 1328.4 1090.5 1329.7 1090.9C1330.9 1091.2 1333.2 1094.4 1334.3 1095.5C1335.4 1096.6 1337.1 1099.0 1338.2 1099.4C1339.4 1099.9 1342.4 1099.4 1343.5 1099.4C1344.6 1099.5 1346.5 1100.7 1346.8 1100.1C1347.1 1099.5 1345.8 1095.6 1346.1 1094.8C1346.5 1094.1 1348.9 1094.8 1349.4 1094.2C1350.0 1093.5 1350.8 1090.5 1350.8 1089.6C1350.7 1088.6 1348.5 1087.0 1348.8 1086.3C1349.1 1085.5 1352.2 1083.8 1353.4 1083.6C1354.6 1083.5 1357.1 1084.2 1358.0 1084.9C1358.9 1085.7 1360.1 1089.7 1360.7 1089.6C1361.2 1089.4 1362.5 1085.4 1362.6 1083.6C1362.8 1081.8 1361.9 1076.4 1362.0 1075.1C1362.1 1073.7 1362.5 1072.9 1363.3 1073.1C1364.1 1073.2 1367.2 1076.0 1368.6 1076.4C1370.0 1076.7 1373.0 1075.7 1374.5 1075.7C1376.0 1075.7 1378.9 1075.8 1380.4 1076.4C1382.0 1076.9 1385.4 1079.3 1387.0 1080.3C1388.7 1081.4 1392.0 1083.9 1393.6 1084.9C1395.3 1086.0 1398.6 1088.1 1400.2 1088.9C1401.9 1089.7 1405.2 1091.1 1406.8 1091.5C1408.5 1091.9 1411.9 1092.3 1413.4 1092.2C1414.9 1092.1 1417.4 1090.8 1418.7 1090.9C1420.0 1091.0 1422.6 1092.2 1423.9 1092.9C1425.3 1093.5 1428.1 1095.6 1429.2 1096.1C1430.4 1096.7 1432.3 1096.7 1433.2 1097.5C1434.1 1098.2 1435.8 1100.8 1436.5 1102.1C1437.1 1103.4 1437.9 1106.8 1438.4 1108.0C1439.0 1109.3 1440.3 1111.1 1441.1 1112.0C1441.9 1112.8 1444.1 1114.3 1445.0 1114.6C1446.0 1114.9 1448.3 1115.0 1449.0 1114.6C1449.7 1114.2 1449.8 1111.8 1451.0 1111.3C1452.1 1110.9 1456.3 1111.0 1458.2 1110.9C1460.1 1110.8 1464.5 1110.4 1466.1 1110.7C1467.8 1111.0 1470.2 1112.3 1471.4 1113.3C1472.6 1114.3 1475.2 1117.1 1476.0 1118.6C1476.9 1120.0 1477.8 1123.5 1478.0 1125.2C1478.3 1126.8 1477.9 1130.3 1478.0 1131.8C1478.1 1133.2 1478.2 1135.9 1478.7 1137.0C1479.2 1138.2 1480.9 1140.3 1482.0 1141.0C1483.0 1141.6 1486.1 1141.7 1487.2 1142.3C1488.4 1142.9 1490.2 1144.7 1491.2 1145.6C1492.2 1146.5 1494.2 1148.8 1495.1 1149.6C1496.1 1150.3 1497.6 1151.5 1498.4 1151.5C1499.3 1151.6 1501.2 1150.1 1501.6 1149.9M1358.0 1084.9C1358.4 1086.0 1361.3 1092.1 1361.3 1093.5C1361.3 1094.9 1358.3 1095.0 1358.0 1096.1C1357.8 1097.3 1359.1 1101.1 1359.3 1102.7C1359.6 1104.4 1360.2 1107.9 1360.0 1109.3C1359.8 1110.8 1357.6 1114.0 1358.0 1114.6C1358.4 1115.3 1361.8 1114.4 1363.3 1114.6C1364.8 1114.8 1368.5 1115.4 1369.9 1115.9C1371.3 1116.4 1374.5 1117.9 1374.5 1118.6C1374.5 1119.2 1371.0 1120.7 1369.9 1121.2C1368.7 1121.7 1365.8 1121.5 1365.3 1122.5C1364.7 1123.5 1365.8 1128.3 1365.3 1129.1C1364.8 1129.9 1362.2 1129.5 1361.3 1129.1C1360.4 1128.7 1359.1 1126.0 1358.0 1125.8C1356.9 1125.7 1353.9 1127.0 1352.7 1127.8C1351.6 1128.6 1349.9 1132.1 1348.8 1132.4C1347.6 1132.7 1344.8 1130.4 1343.5 1130.4C1342.2 1130.5 1339.6 1132.1 1338.2 1133.1C1336.9 1134.1 1334.4 1137.2 1333.0 1138.3C1331.5 1139.5 1328.0 1141.4 1326.4 1142.3C1324.7 1143.2 1321.3 1145.3 1319.8 1145.6C1318.3 1145.8 1315.6 1144.8 1314.5 1144.3C1313.4 1143.8 1311.5 1141.3 1311.2 1141.6C1311.0 1142.0 1313.1 1145.8 1312.5 1146.9C1311.9 1148.0 1308.2 1149.4 1306.6 1150.2C1305.0 1151.0 1300.8 1153.1 1300.0 1153.5M1541.3 1050.0C1540.6 1051.0 1537.3 1055.9 1536.0 1057.9C1534.7 1059.9 1532.1 1063.8 1530.7 1065.8C1529.4 1067.8 1526.6 1071.9 1525.5 1073.7C1524.3 1075.5 1523.0 1078.9 1521.5 1080.3C1520.0 1081.7 1515.6 1083.8 1513.6 1084.9C1511.6 1086.1 1507.7 1088.3 1505.7 1089.6C1503.7 1090.8 1498.6 1094.0 1497.8 1094.8C1497.0 1095.7 1497.9 1096.5 1499.1 1096.1C1500.3 1095.8 1504.9 1093.3 1507.0 1092.2C1509.2 1091.0 1514.3 1088.2 1516.2 1086.9C1518.2 1085.6 1521.5 1083.1 1522.8 1081.6C1524.2 1080.2 1525.6 1077.2 1526.8 1075.1C1527.9 1072.9 1530.7 1066.8 1532.1 1064.5C1533.4 1062.2 1536.1 1058.4 1537.3 1056.6C1538.6 1054.8 1541.4 1050.8 1542.0 1050.0M1517.6 1050.0C1517.1 1050.8 1514.6 1055.1 1513.6 1056.6C1512.6 1058.1 1510.6 1060.7 1509.7 1061.9C1508.7 1063.0 1507.2 1064.9 1505.7 1065.8C1504.2 1066.7 1499.4 1068.5 1497.8 1069.1C1496.1 1069.7 1493.5 1070.6 1492.5 1070.4C1491.5 1070.3 1490.4 1067.6 1489.9 1067.8C1489.4 1068.0 1489.4 1071.4 1488.6 1072.4C1487.7 1073.4 1484.3 1074.7 1483.3 1075.7C1482.3 1076.7 1480.9 1078.6 1480.6 1080.3C1480.4 1082.1 1481.1 1087.2 1481.3 1089.6C1481.5 1091.9 1482.2 1096.8 1482.6 1098.8C1483.0 1100.8 1484.2 1103.4 1484.6 1105.4C1485.0 1107.4 1485.4 1112.6 1485.9 1114.6C1486.4 1116.6 1487.8 1119.6 1488.6 1121.2C1489.3 1122.9 1491.0 1126.0 1491.9 1127.8C1492.7 1129.6 1494.2 1133.6 1495.1 1135.7C1496.1 1137.8 1497.9 1142.5 1499.1 1144.9C1500.3 1147.4 1502.9 1152.8 1504.4 1155.5C1505.9 1158.1 1509.3 1163.4 1511.0 1166.0C1512.6 1168.7 1515.9 1173.9 1517.6 1176.6C1519.2 1179.2 1522.5 1184.5 1524.2 1187.1C1525.8 1189.8 1529.3 1195.5 1530.7 1197.7C1532.2 1199.9 1534.5 1203.4 1536.0 1204.9C1537.5 1206.5 1541.0 1208.9 1542.6 1210.2C1544.3 1211.5 1547.9 1214.7 1549.2 1215.5C1550.5 1216.3 1551.8 1216.9 1553.2 1216.8C1554.5 1216.7 1558.1 1215.3 1559.8 1214.8C1561.4 1214.3 1564.9 1213.3 1566.4 1212.8C1567.8 1212.3 1570.5 1211.6 1571.6 1210.9C1572.8 1210.1 1574.8 1207.9 1575.6 1206.9C1576.3 1205.9 1576.9 1203.9 1577.6 1203.0C1578.2 1202.0 1580.3 1200.2 1580.9 1199.0C1581.4 1197.8 1581.7 1194.8 1582.2 1193.7C1582.7 1192.7 1584.0 1190.9 1584.8 1190.4C1585.6 1189.9 1588.4 1189.2 1588.8 1189.8C1589.2 1190.3 1587.8 1193.9 1588.1 1195.0C1588.4 1196.2 1590.3 1198.1 1591.4 1199.0C1592.5 1199.9 1595.4 1201.6 1596.7 1202.3C1598.0 1203.0 1600.6 1204.7 1602.0 1204.9C1603.3 1205.2 1606.2 1204.8 1607.2 1204.3C1608.2 1203.7 1609.8 1200.9 1610.0 1200.3C1610.2 1199.7 1609.2 1199.7 1609.1 1199.6M1507.6 1048.2C1507.2 1048.4 1504.7 1049.0 1504.4 1050.0C1504.1 1051.0 1504.7 1055.2 1505.0 1056.6C1505.4 1058.0 1506.6 1060.4 1507.0 1061.2C1507.5 1062.0 1508.5 1062.6 1508.7 1062.9M1526.7 1049.3C1527.1 1049.4 1528.9 1049.4 1529.4 1050.0C1529.9 1050.6 1529.8 1053.6 1530.7 1054.0C1531.7 1054.3 1536.6 1052.9 1537.3 1052.6C1538.0 1052.4 1536.5 1051.8 1536.4 1051.7M265.2 500.6C265.3 499.7 264.5 495.7 265.5 493.7C266.5 491.7 271.4 486.6 273.4 484.5C275.4 482.3 279.0 478.9 281.3 476.6C283.6 474.3 289.1 469.0 291.9 466.0C294.7 463.0 300.8 455.5 303.7 452.8C306.7 450.2 313.1 446.7 315.6 444.9C318.1 443.1 321.9 439.8 323.5 438.3C325.2 436.8 327.8 434.5 328.8 433.0C329.8 431.6 330.4 427.6 331.4 426.5C332.4 425.3 335.0 424.2 336.7 423.8C338.3 423.4 342.3 423.1 344.6 423.0C346.9 422.9 353.2 423.3 355.1 423.0C357.1 422.7 359.5 421.5 360.4 420.7C361.3 419.8 362.1 417.3 362.5 415.9C362.9 414.5 362.7 410.5 363.6 409.3C364.5 408.2 368.3 407.6 369.7 406.7C371.0 405.8 373.8 403.5 374.4 402.2C375.0 400.9 374.4 397.7 374.1 396.1C373.9 394.5 372.7 391.3 372.3 389.5C371.9 387.7 371.3 383.4 371.0 381.6C370.6 379.8 370.3 376.4 369.7 375.0C369.0 373.7 366.3 372.4 365.7 371.1C365.1 369.8 365.8 365.5 365.2 364.5C364.6 363.5 361.6 363.8 360.9 363.2C360.3 362.5 359.5 360.2 359.6 359.2C359.7 358.2 360.7 355.7 361.7 355.3C362.8 354.8 366.5 355.4 368.3 355.3C370.1 355.1 375.0 354.5 376.2 353.9C377.5 353.3 378.7 351.3 378.4 350.5C378.0 349.7 375.0 348.1 373.6 347.3C372.2 346.6 368.4 345.5 367.0 344.7C365.6 343.9 363.5 342.1 362.5 340.7C361.6 339.4 360.4 336.0 359.6 334.2C358.9 332.3 357.2 328.2 356.5 326.2C355.7 324.3 354.6 320.1 353.8 318.3C353.1 316.5 351.1 313.1 350.4 311.7C349.7 310.4 349.6 309.1 348.6 307.8C347.5 306.5 343.4 302.8 342.0 301.2C340.5 299.5 337.8 296.4 336.7 294.6C335.5 292.8 333.7 288.2 332.7 286.7C331.7 285.2 329.8 283.4 328.8 282.7C327.8 282.1 325.4 282.1 324.8 281.4C324.2 280.8 323.7 278.5 324.0 277.5C324.4 276.4 326.5 274.2 327.5 273.0C328.4 271.8 331.2 269.0 331.4 267.7C331.6 266.4 329.4 264.2 328.8 263.0C328.2 261.7 326.7 258.7 326.7 257.7C326.7 256.6 329.2 255.2 328.8 254.5C328.3 253.9 323.5 253.3 323.0 252.4C322.5 251.5 324.8 249.0 324.8 247.7C324.8 246.3 323.4 243.3 323.0 241.9C322.5 240.4 321.3 237.3 321.4 236.1C321.5 234.8 321.9 233.0 323.5 232.1C325.1 231.2 331.4 229.4 334.1 229.2C336.7 229.0 342.5 230.4 344.6 230.8C346.7 231.2 349.7 231.7 351.2 232.6C352.7 233.6 355.1 237.8 356.5 238.4C357.8 239.1 360.1 238.9 361.7 237.9C363.4 236.9 367.5 232.5 369.7 230.8C371.8 229.0 376.6 225.5 378.9 223.9C381.2 222.3 386.5 219.3 388.1 218.1C389.8 216.9 391.4 215.8 392.1 214.2C392.7 212.5 392.7 207.1 393.4 204.9C394.0 202.8 396.2 198.6 397.3 197.0C398.5 195.5 400.6 193.2 402.6 192.5C404.6 191.9 410.5 191.9 413.2 191.8C415.8 191.6 421.4 191.1 423.7 191.0C426.0 190.8 430.0 190.2 431.6 190.4C433.3 190.6 434.9 192.4 436.9 192.5C438.9 192.6 444.8 191.7 447.4 191.2C450.1 190.8 455.5 189.6 458.0 189.1C460.5 188.6 465.1 188.0 467.2 187.3C469.4 186.5 473.2 183.8 475.1 183.0C477.1 182.3 480.9 181.2 483.0 181.2C485.2 181.2 489.8 182.4 492.3 183.0C494.8 183.7 500.2 186.0 502.8 186.5C505.5 187.0 510.7 186.9 513.4 187.0C516.0 187.1 521.9 187.1 523.9 187.3C525.9 187.5 527.6 188.6 529.2 188.6C530.8 188.6 535.0 187.5 537.1 187.0C539.3 186.5 544.0 185.0 546.3 184.9C548.6 184.8 553.1 186.0 555.6 186.5C558.0 186.9 563.5 188.4 566.1 188.6C568.8 188.8 574.7 187.9 576.7 188.3C578.6 188.7 580.6 190.8 581.9 191.8C583.3 192.7 585.2 195.1 587.2 195.7C589.2 196.3 595.1 196.3 597.8 196.5C600.4 196.7 606.4 196.7 608.3 197.0C610.2 197.4 612.3 198.4 613.1 199.1C613.8 199.9 612.7 202.3 614.1 202.8C615.5 203.4 621.2 203.5 624.1 203.6C627.0 203.8 634.4 203.6 637.3 204.1C640.3 204.7 645.4 207.3 647.9 208.4C650.3 209.5 655.0 212.1 657.1 212.8C659.2 213.6 663.0 214.3 665.0 214.2C667.0 214.0 670.9 212.0 672.9 211.5C674.9 211.0 678.9 210.3 680.8 210.2C682.8 210.1 687.3 210.2 688.7 210.7C690.2 211.2 691.7 212.6 692.2 214.2C692.6 215.7 691.8 221.7 692.2 223.4C692.6 225.0 694.1 226.7 695.3 227.4C696.6 228.0 701.3 227.6 701.9 228.7C702.6 229.8 700.4 234.9 700.6 236.1C700.8 237.2 702.1 237.8 703.8 237.9C705.4 238.0 711.9 237.7 713.8 237.1C715.7 236.5 717.8 234.1 719.1 233.4C720.4 232.8 722.7 231.8 724.3 231.8C726.0 231.9 730.3 233.4 732.3 233.9C734.2 234.5 738.5 235.5 740.2 236.1C741.8 236.6 744.7 237.5 745.4 238.4C746.2 239.3 746.2 241.6 746.0 243.2C745.7 244.8 743.3 249.5 743.3 251.1C743.3 252.6 745.0 255.2 746.0 255.6C746.9 255.9 749.5 254.8 750.7 253.7C751.9 252.7 754.6 248.9 755.5 247.1C756.3 245.3 756.7 240.9 757.3 239.2C757.9 237.6 759.0 234.4 759.9 233.9C760.9 233.5 763.9 234.5 765.2 235.3C766.5 236.0 768.6 238.8 770.5 239.7C772.3 240.7 778.8 242.3 780.0 242.6M529.2 188.6C529.7 189.0 532.6 190.7 533.2 192.3C533.7 193.8 534.4 199.1 533.9 201.0C533.5 202.9 530.6 205.8 529.2 207.6C527.8 209.4 523.9 213.5 522.6 215.5C521.4 217.5 519.6 221.3 519.2 223.4C518.7 225.5 518.7 231.0 519.2 232.6C519.6 234.3 521.4 235.9 522.6 236.6C523.9 237.3 528.4 237.8 529.2 238.4C530.0 239.1 529.3 240.8 528.7 241.9C528.0 242.9 524.4 245.2 523.9 247.1C523.5 249.1 525.2 254.4 525.2 257.7C525.3 261.0 524.3 271.0 524.5 273.5C524.6 276.0 526.0 277.6 526.6 277.5C527.2 277.3 527.9 272.9 529.2 272.2C530.5 271.4 535.5 271.7 537.1 271.4C538.8 271.1 541.1 269.6 542.4 269.5C543.7 269.5 546.5 270.8 547.7 270.9C548.8 270.9 551.1 269.2 551.6 270.1C552.1 270.9 551.1 275.9 551.6 277.5C552.1 279.0 554.6 281.3 555.6 282.7C556.6 284.1 558.2 287.5 559.5 288.8C560.8 290.1 564.3 292.2 566.1 293.3C567.9 294.3 572.6 296.1 574.0 297.2C575.4 298.4 576.9 301.1 577.2 302.5C577.5 303.9 577.2 307.3 576.1 308.3C575.1 309.4 570.2 310.4 568.8 310.9C567.3 311.5 565.2 312.1 564.8 313.1C564.4 314.0 564.5 317.5 565.3 318.3C566.2 319.2 570.0 319.0 571.4 319.7C572.8 320.3 575.6 322.3 576.7 323.6C577.7 324.9 579.7 328.7 579.8 330.2C580.0 331.7 579.2 334.7 578.0 335.5C576.8 336.3 570.9 335.8 570.1 336.8C569.2 337.8 571.4 341.9 571.4 343.4C571.4 344.9 570.6 347.2 570.1 348.7C569.6 350.1 568.6 353.9 567.4 355.3C566.3 356.6 562.3 358.1 560.8 359.2C559.4 360.4 556.3 362.5 555.6 364.5C554.8 366.5 555.1 372.6 554.8 375.0C554.4 377.5 553.5 382.8 552.9 384.3C552.4 385.7 551.6 387.1 550.3 386.9C549.0 386.7 544.0 384.3 542.4 382.9C540.7 381.6 538.8 376.8 537.1 375.8C535.5 374.8 531.2 374.6 529.2 375.0C527.2 375.4 523.3 378.0 521.3 379.0C519.3 380.0 515.5 382.9 513.4 382.9C511.2 383.0 505.5 379.0 504.1 379.5C502.8 380.0 502.5 385.6 502.8 386.9C503.2 388.2 507.4 389.0 506.8 389.5C506.1 390.0 498.8 389.7 497.6 390.9C496.3 392.0 497.4 397.4 497.0 398.8C496.7 400.1 497.0 401.2 494.9 401.4C492.8 401.6 482.3 399.8 480.4 400.1C478.5 400.4 479.3 403.1 479.6 404.0C479.9 405.0 482.9 406.5 483.0 407.5C483.1 408.5 481.2 411.2 480.4 412.0C479.6 412.7 476.3 412.4 476.5 413.3C476.6 414.1 480.2 417.1 481.7 418.5C483.2 420.0 487.7 424.0 488.3 425.1C489.0 426.3 488.5 426.3 487.0 427.8C485.5 429.3 477.9 435.9 476.5 437.0C475.0 438.2 475.3 437.0 475.1 437.0M371.7 386.1C372.1 386.0 373.7 385.3 374.9 385.6C376.2 385.8 380.2 387.2 381.5 388.2C382.8 389.2 384.3 392.6 385.5 393.5C386.6 394.4 389.6 395.5 390.7 395.3C391.9 395.2 393.4 392.7 394.7 392.2C396.0 391.6 399.8 390.2 401.3 390.9C402.8 391.5 405.4 396.1 406.6 397.4C407.7 398.8 409.2 400.9 410.5 401.4C411.8 401.9 416.0 400.9 417.1 401.4C418.3 401.9 419.8 404.4 419.8 405.4C419.8 406.3 418.3 408.7 417.1 409.3C416.0 410.0 411.0 409.6 410.5 410.6C410.0 411.6 412.3 415.9 413.2 417.2C414.0 418.5 415.8 421.0 417.1 421.2C418.4 421.3 422.1 418.5 423.7 418.5C425.4 418.5 428.7 419.7 430.3 421.2C432.0 422.7 435.3 429.1 436.9 430.4C438.5 431.7 441.8 431.8 443.5 431.7C445.1 431.6 448.3 429.8 450.1 429.6C451.9 429.5 456.5 430.6 458.0 430.4C459.5 430.2 460.6 427.8 462.0 427.8C463.3 427.8 467.1 430.0 468.5 430.4C470.0 430.8 473.0 430.4 473.8 431.2C474.6 432.0 475.3 435.9 475.1 437.0C475.0 438.1 472.3 439.0 472.5 439.6C472.7 440.3 474.8 442.3 476.5 442.3C478.1 442.2 484.1 438.8 485.7 439.1C487.3 439.4 488.9 443.5 489.1 444.9C489.3 446.3 487.7 449.3 487.0 450.2C486.3 451.1 483.8 451.5 483.8 452.3C483.8 453.1 486.5 454.7 487.0 456.8C487.5 458.8 486.9 466.3 487.5 468.6C488.2 471.0 490.4 473.5 492.3 475.2C494.2 477.0 500.7 481.8 502.8 482.6C505.0 483.5 508.4 482.8 509.4 481.8C510.4 480.9 510.1 477.1 510.7 475.2C511.4 473.4 514.4 469.1 514.7 467.3C515.0 465.5 512.1 461.2 513.4 460.7C514.7 460.2 522.9 463.5 525.2 463.4C527.6 463.2 530.0 460.1 531.8 459.4C533.6 458.8 537.4 458.4 539.7 458.1C542.1 457.8 548.0 457.8 550.3 456.8C552.6 455.8 556.4 451.7 558.2 450.2C560.0 448.6 563.2 444.9 564.8 444.4C566.4 443.9 569.9 446.2 571.4 446.2C572.9 446.2 574.7 444.1 576.7 444.4C578.6 444.7 585.2 448.8 587.2 448.9C589.2 448.9 591.7 444.4 592.5 444.9C593.3 445.4 593.5 450.8 593.8 452.8C594.1 454.8 594.5 458.9 595.1 460.7C595.8 462.6 599.4 465.8 599.1 467.3C598.8 468.8 593.0 471.3 592.5 472.6C592.0 473.9 595.3 476.7 595.1 477.9C595.0 479.0 591.8 480.4 591.2 481.8C590.5 483.3 590.6 488.6 589.9 489.7C589.1 490.9 585.6 490.1 585.1 491.1C584.6 492.1 585.3 495.8 585.9 497.7C586.5 499.5 589.2 504.0 589.9 505.6C590.5 507.1 591.0 509.5 591.2 510.1M502.8 482.6C503.8 483.5 509.6 488.2 510.7 489.7C511.9 491.3 512.6 494.0 512.1 495.0C511.6 496.0 507.3 496.7 506.8 497.7C506.3 498.6 508.6 501.9 508.1 502.9C507.6 503.9 504.8 504.7 502.8 505.6C500.8 506.5 493.6 509.7 492.3 510.1C490.9 510.4 492.0 508.8 491.9 508.7M595.1 460.7C596.1 459.7 601.4 454.5 603.0 452.8C604.7 451.2 606.3 448.5 608.3 447.6C610.3 446.6 616.6 446.6 618.9 445.4C621.2 444.3 624.8 440.2 626.8 438.3C628.8 436.4 632.9 432.2 634.7 430.4C636.5 428.6 639.8 425.6 641.3 423.8C642.8 422.0 645.2 417.2 646.6 415.9C647.9 414.6 650.7 414.4 651.8 413.3C653.0 412.1 654.3 408.0 655.8 406.7C657.3 405.4 662.0 403.1 663.7 402.7C665.3 402.4 667.3 404.5 669.0 404.0C670.6 403.5 675.1 400.0 676.9 398.8C678.7 397.5 682.2 394.3 683.5 394.3C684.8 394.3 686.6 398.2 687.4 398.8C688.3 399.3 689.7 398.8 690.1 398.8M743.3 251.1C742.6 251.4 738.8 252.9 737.5 253.7C736.3 254.5 734.2 256.4 733.6 257.7C732.9 259.0 731.9 263.0 732.3 264.3C732.6 265.6 736.9 268.7 736.2 268.2C735.6 267.8 728.5 261.0 727.0 260.8C725.5 260.7 724.5 265.3 724.3 266.9C724.2 268.5 725.7 271.9 725.7 273.5C725.7 275.2 725.3 278.9 724.3 280.1C723.4 281.2 718.2 281.6 717.8 282.7C717.3 283.9 720.3 287.7 720.4 289.3C720.5 291.0 719.4 294.6 718.5 295.9C717.7 297.2 714.9 298.6 713.8 299.9C712.7 301.2 710.5 304.7 709.8 306.5C709.2 308.3 709.2 312.6 708.5 314.4C707.9 316.2 705.9 319.8 704.6 321.0C703.2 322.2 699.3 323.3 698.0 324.1C696.7 325.0 694.3 326.3 694.0 327.6C693.7 328.8 694.9 332.3 695.3 334.2C695.8 336.0 697.3 340.1 697.4 342.1C697.6 344.0 696.8 348.0 696.7 350.0C696.5 352.0 696.0 356.1 696.1 357.9C696.3 359.7 697.2 362.8 698.0 364.5C698.7 366.1 701.8 369.3 701.9 371.1C702.1 372.9 700.1 377.2 699.3 379.0C698.5 380.8 696.2 384.1 695.3 385.6C694.5 387.1 692.5 389.5 692.7 390.9C692.9 392.2 697.0 395.1 696.7 396.1C696.3 397.1 690.9 398.4 690.1 398.8M690.1 398.8C690.9 399.3 694.8 401.2 696.7 402.7C698.5 404.2 704.4 408.7 704.6 410.6C704.7 412.6 699.0 416.6 698.0 418.5C697.0 420.5 695.7 424.6 696.7 426.5C697.6 428.3 703.7 431.4 705.9 433.0C708.0 434.7 711.8 437.7 713.8 439.6C715.8 441.6 719.7 447.6 721.7 448.9C723.7 450.2 728.0 450.7 729.6 450.2C731.3 449.7 733.7 444.3 734.9 444.9C736.0 445.6 738.0 453.2 738.9 455.5C739.7 457.8 741.5 461.6 741.5 463.4C741.5 465.2 738.7 468.2 738.9 470.0C739.0 471.8 742.5 476.4 742.8 477.9C743.1 479.4 743.1 481.1 741.5 481.8C739.8 482.6 730.8 482.6 729.6 483.9C728.5 485.3 732.3 490.7 732.3 492.4C732.3 494.1 729.1 496.0 729.6 497.7C730.1 499.3 734.9 504.0 736.2 505.6C737.5 507.1 739.7 509.5 740.2 510.1M770.0 240.5C771.0 240.8 776.1 242.4 777.9 242.6C779.7 242.9 783.0 243.1 784.5 242.6C786.0 242.2 788.5 240.1 789.8 238.7C791.1 237.3 793.9 232.6 795.1 231.3C796.2 230.1 798.0 228.7 799.0 228.7C800.0 228.7 802.5 230.4 803.0 231.3C803.5 232.2 802.3 235.0 803.0 236.1C803.6 237.1 807.2 238.4 808.2 239.7C809.2 241.1 809.9 246.7 810.9 247.1C811.9 247.6 814.7 244.0 816.1 243.2C817.6 242.4 820.8 240.8 822.7 240.5C824.7 240.3 829.9 240.6 832.0 241.1C834.0 241.6 837.9 243.1 839.1 244.5C840.2 245.9 840.6 250.4 841.2 252.4C841.8 254.4 843.0 259.6 843.8 260.8C844.7 262.1 846.8 261.4 847.8 262.2C848.8 262.9 850.9 266.8 851.8 266.9C852.6 267.0 854.1 264.3 854.4 263.0C854.7 261.6 853.7 258.2 854.4 256.4C855.0 254.5 858.2 250.1 859.7 248.4C861.1 246.8 864.3 244.1 866.3 243.2C868.2 242.3 873.7 242.1 875.5 241.1C877.3 240.1 879.4 236.5 880.8 235.3C882.1 234.0 884.6 231.6 886.0 231.3C887.5 231.0 891.3 231.8 892.6 232.6C893.9 233.5 895.6 236.1 896.6 237.9C897.6 239.7 899.7 244.8 900.5 247.1C901.4 249.4 902.2 254.1 903.2 256.4C904.2 258.7 907.3 263.7 908.4 265.6C909.6 267.5 911.3 271.1 912.4 271.4C913.6 271.7 915.9 268.6 917.7 268.2C919.5 267.8 925.1 269.1 926.9 268.2C928.7 267.4 930.7 262.8 932.2 261.6C933.7 260.5 937.3 260.0 938.8 259.0C940.3 258.0 942.7 254.4 944.1 253.7C945.4 253.0 948.2 252.7 949.3 253.2C950.5 253.7 952.5 256.6 953.3 257.7C954.1 258.7 954.6 261.0 955.9 261.6C957.2 262.2 962.2 262.5 963.8 262.4C965.5 262.4 967.9 261.8 969.1 261.1C970.3 260.4 971.6 258.0 973.1 257.2C974.5 256.3 979.0 254.9 981.0 254.5C982.9 254.1 986.7 253.8 988.9 253.7C991.0 253.7 996.3 253.8 998.1 254.3C999.9 254.7 1002.1 256.6 1003.4 257.7C1004.7 258.8 1007.0 261.6 1008.7 263.0C1010.3 264.3 1015.4 266.7 1016.6 268.2C1017.7 269.7 1017.9 273.5 1017.9 274.8C1017.9 276.1 1016.2 277.6 1016.6 278.8C1016.9 279.9 1018.9 283.2 1020.5 284.1C1022.2 284.9 1027.9 284.5 1029.8 285.4C1031.6 286.2 1033.7 289.8 1035.0 290.6C1036.4 291.5 1039.2 293.1 1040.3 292.0C1041.5 290.8 1043.1 283.6 1044.3 281.4C1045.4 279.3 1048.8 276.5 1049.5 274.8C1050.3 273.2 1050.4 269.7 1050.1 268.2C1049.7 266.7 1047.2 264.4 1046.9 263.0C1046.6 261.5 1047.8 257.7 1047.4 256.4C1047.1 255.0 1044.7 253.7 1044.3 252.4C1043.9 251.1 1044.9 247.1 1044.3 245.8C1043.6 244.5 1039.9 243.0 1039.0 241.9C1038.1 240.7 1036.7 238.1 1036.9 236.6C1037.0 235.1 1039.6 232.0 1040.3 230.0C1041.0 228.0 1041.3 222.6 1042.2 220.8C1043.0 218.9 1046.2 216.8 1046.9 215.5C1047.6 214.2 1046.8 212.0 1047.4 210.2C1048.1 208.4 1050.9 203.0 1052.2 201.0C1053.4 199.0 1056.3 195.9 1057.4 194.4C1058.6 192.9 1060.2 190.1 1061.4 189.1C1062.6 188.1 1065.9 187.4 1066.7 186.5C1067.5 185.6 1066.8 183.0 1068.0 181.7C1069.1 180.4 1074.4 177.3 1075.9 175.9C1077.4 174.5 1079.5 172.0 1079.9 170.7C1080.2 169.3 1078.2 166.3 1078.5 165.4C1078.9 164.5 1081.0 163.8 1082.5 163.5C1084.0 163.3 1088.3 163.4 1090.4 163.3C1092.6 163.2 1097.7 162.4 1099.6 162.7C1101.6 163.1 1104.8 165.4 1106.2 165.9C1107.7 166.4 1110.4 167.3 1111.5 166.7C1112.7 166.1 1114.3 162.6 1115.5 161.4C1116.6 160.3 1118.9 158.2 1120.7 157.5C1122.6 156.7 1127.7 155.5 1130.0 155.4C1132.3 155.2 1136.7 155.8 1139.2 156.1C1141.7 156.5 1147.1 157.9 1149.7 158.3C1152.4 158.6 1157.7 158.8 1160.3 158.8C1162.9 158.8 1168.7 157.8 1170.8 158.0C1173.0 158.2 1176.4 158.7 1177.4 160.1C1178.5 161.5 1178.3 168.5 1179.3 169.3C1180.3 170.2 1183.8 167.3 1185.3 166.7C1186.9 166.1 1190.3 164.9 1191.9 164.9C1193.6 164.9 1196.6 166.8 1198.5 166.7C1200.5 166.6 1205.5 164.9 1207.8 164.1C1210.1 163.2 1215.3 161.4 1217.0 160.1C1218.7 158.8 1220.7 155.5 1221.5 153.5C1222.3 151.5 1223.2 146.3 1223.6 144.3C1224.0 142.3 1224.2 138.8 1224.9 137.7C1225.6 136.5 1228.8 136.2 1228.9 135.1C1229.0 133.9 1225.7 129.9 1225.7 128.5C1225.7 127.0 1227.3 124.0 1228.9 123.7C1230.4 123.4 1236.1 125.6 1238.1 125.8C1240.1 126.0 1242.5 124.7 1244.7 125.3C1246.8 125.9 1252.6 129.3 1255.2 130.6C1257.9 131.8 1263.3 134.7 1265.8 135.1C1268.3 135.4 1272.9 133.6 1275.0 133.7C1277.2 133.9 1280.8 136.7 1282.9 136.4C1285.1 136.0 1289.7 132.7 1292.2 131.1C1294.6 129.4 1300.1 124.6 1302.7 123.2C1305.3 121.8 1310.6 120.2 1313.2 120.0C1315.9 119.9 1321.0 121.8 1323.8 121.9C1326.6 121.9 1334.0 121.9 1335.7 120.5C1337.4 119.2 1337.3 112.5 1337.5 111.3M1342.8 111.3C1343.0 112.6 1344.1 119.7 1344.4 121.9C1344.6 124.0 1343.8 128.3 1344.9 128.5C1345.9 128.6 1350.8 124.2 1352.8 123.2C1354.8 122.1 1358.1 120.2 1360.7 120.0C1363.4 119.9 1371.3 121.1 1373.9 121.9C1376.5 122.6 1379.8 124.2 1381.8 125.8C1383.8 127.5 1389.0 133.9 1390.0 135.1M1040.3 292.0C1040.1 292.3 1039.4 293.0 1039.0 294.6C1038.6 296.2 1037.3 302.5 1036.9 305.1C1036.5 307.8 1036.0 313.1 1035.8 315.7C1035.7 318.3 1035.1 324.9 1035.8 326.2C1036.5 327.6 1040.1 326.5 1041.6 326.8C1043.2 327.0 1047.1 327.4 1048.2 328.4C1049.4 329.3 1050.6 332.3 1050.9 334.2C1051.1 336.0 1049.6 341.8 1050.1 343.4C1050.6 345.0 1053.4 346.1 1054.8 346.8C1056.2 347.6 1060.2 348.4 1061.4 349.5C1062.7 350.5 1064.7 353.5 1064.8 355.3C1064.9 357.0 1062.9 361.8 1062.2 363.2C1061.5 364.5 1059.0 365.8 1059.6 366.3C1060.1 366.8 1065.3 366.7 1066.7 367.1C1068.1 367.5 1069.5 369.8 1070.6 369.8C1071.8 369.8 1074.1 367.5 1075.9 367.1C1077.7 366.7 1082.8 366.6 1085.1 366.3C1087.4 366.1 1092.7 364.8 1094.4 365.3C1096.0 365.7 1097.3 368.7 1098.3 369.8C1099.3 370.8 1101.1 372.2 1102.3 373.7C1103.4 375.2 1106.6 379.8 1107.6 381.6C1108.5 383.4 1110.4 386.9 1110.2 388.2C1110.0 389.5 1106.4 391.2 1106.2 392.2C1106.1 393.2 1107.9 395.3 1108.9 396.1C1109.9 397.0 1113.2 397.8 1114.1 398.8C1115.1 399.8 1115.5 403.2 1116.8 404.0C1118.1 404.9 1122.4 405.0 1124.7 405.4C1127.0 405.7 1132.8 406.7 1135.2 406.7C1137.7 406.6 1142.3 405.5 1144.5 404.8C1146.6 404.2 1150.4 402.3 1152.4 401.4C1154.4 400.5 1158.6 398.3 1160.3 397.4C1161.9 396.6 1164.6 395.9 1165.6 394.8C1166.6 393.8 1167.2 389.9 1168.2 389.0C1169.2 388.1 1171.8 386.7 1173.5 387.4C1175.1 388.2 1179.6 393.2 1181.4 394.8C1183.2 396.4 1186.5 399.4 1188.0 400.1C1189.5 400.7 1192.6 399.3 1193.3 400.1C1193.9 400.9 1193.9 405.5 1193.3 406.7C1192.6 407.8 1188.2 408.2 1188.0 409.3C1187.8 410.5 1191.1 414.3 1191.9 415.9C1192.8 417.6 1193.6 421.5 1194.6 422.5C1195.6 423.5 1198.9 422.9 1199.9 423.8C1200.8 424.7 1202.2 428.9 1202.5 429.6M1335.7 120.5C1335.5 121.4 1335.2 125.3 1334.3 127.1C1333.5 129.0 1330.0 132.9 1329.1 135.1C1328.1 137.2 1326.8 142.5 1327.0 144.3C1327.1 146.1 1329.1 148.4 1330.4 149.6C1331.6 150.7 1335.3 152.2 1337.0 153.5C1338.6 154.8 1342.9 158.6 1343.6 160.1C1344.2 161.6 1343.6 164.6 1342.3 165.4C1340.9 166.2 1334.3 165.7 1333.0 166.7C1331.7 167.7 1331.7 171.6 1331.7 173.3C1331.7 174.9 1333.7 178.6 1333.0 179.9C1332.4 181.2 1328.7 183.0 1326.4 183.8C1324.1 184.7 1316.9 185.5 1314.6 186.5C1312.3 187.5 1309.6 190.1 1308.0 191.8C1306.3 193.4 1302.4 197.7 1301.4 199.7C1300.3 201.6 1299.4 205.6 1299.5 207.6C1299.7 209.6 1301.5 213.5 1302.7 215.5C1303.9 217.5 1308.6 221.4 1309.3 223.4C1310.0 225.4 1307.6 229.3 1308.0 231.3C1308.3 233.3 1311.6 237.2 1311.9 239.2C1312.3 241.2 1311.3 245.3 1310.6 247.1C1310.0 248.9 1307.3 251.7 1306.7 253.7C1306.0 255.7 1306.2 261.1 1305.3 263.0C1304.5 264.8 1301.4 267.4 1300.1 268.2C1298.7 269.1 1295.1 268.7 1294.8 269.5C1294.5 270.4 1297.3 273.5 1297.4 274.8C1297.6 276.1 1295.8 278.6 1296.1 280.1C1296.4 281.6 1299.7 285.2 1300.1 286.7C1300.4 288.2 1299.4 290.5 1298.7 292.0C1298.1 293.4 1295.9 297.4 1294.8 298.6C1293.6 299.7 1290.0 300.0 1289.5 301.2C1289.0 302.3 1291.2 306.1 1290.8 307.8C1290.5 309.4 1286.4 313.1 1286.9 314.4C1287.4 315.7 1293.1 317.3 1294.8 318.3C1296.4 319.3 1298.4 321.6 1300.1 322.3C1301.7 322.9 1306.3 323.8 1308.0 323.6C1309.6 323.4 1312.8 320.5 1313.2 321.0C1313.7 321.5 1312.3 325.9 1311.9 327.6C1311.6 329.2 1310.6 332.0 1310.6 334.2C1310.6 336.3 1312.3 342.4 1311.9 344.7C1311.6 347.0 1308.6 350.3 1308.0 352.6C1307.3 354.9 1306.3 361.0 1306.7 363.2C1307.0 365.3 1310.6 368.1 1310.6 369.8C1310.6 371.4 1307.3 374.5 1306.7 376.4C1306.0 378.2 1305.8 382.3 1305.3 384.3C1304.8 386.2 1303.4 390.2 1302.7 392.2C1302.0 394.2 1300.9 398.1 1300.1 400.1C1299.2 402.1 1297.4 406.0 1296.1 408.0C1294.8 410.0 1291.3 414.1 1289.5 415.9C1287.7 417.7 1283.6 421.2 1281.6 422.5C1279.6 423.8 1276.0 425.5 1273.7 426.5C1271.4 427.4 1265.8 430.1 1263.1 430.4C1260.5 430.7 1255.2 429.3 1252.6 429.1C1250.0 428.9 1243.9 429.9 1242.0 429.1C1240.2 428.3 1239.7 423.1 1238.1 422.5C1236.4 421.9 1231.0 424.2 1228.9 424.3C1226.7 424.5 1222.9 423.1 1220.9 423.8C1219.0 424.6 1215.3 429.7 1213.0 430.4C1210.7 431.1 1203.8 429.7 1202.5 429.6M1300.1 400.1C1301.1 400.5 1305.8 402.9 1308.0 403.2C1310.1 403.6 1315.6 403.6 1317.2 403.2C1318.9 402.9 1319.3 400.1 1321.2 400.1C1323.0 400.1 1328.7 402.4 1331.7 403.2C1334.7 404.1 1341.6 405.8 1344.9 406.7C1348.2 407.5 1355.1 409.2 1358.1 410.1C1361.0 411.0 1366.0 413.7 1368.6 413.8C1371.3 413.9 1377.5 411.7 1379.2 410.6C1380.8 409.6 1380.5 406.3 1381.8 405.4C1383.2 404.4 1389.1 402.9 1390.0 402.7C1390.9 402.6 1389.1 404.0 1388.9 404.1M1202.5 429.6C1202.3 430.5 1201.7 435.1 1201.2 437.0C1200.7 438.9 1199.5 443.8 1198.5 444.9C1197.5 446.1 1194.6 445.2 1193.3 446.2C1191.9 447.2 1188.5 451.0 1188.0 452.8C1187.5 454.6 1190.1 459.3 1189.3 460.7C1188.5 462.2 1183.0 463.5 1181.4 464.7C1179.7 465.8 1176.6 468.2 1176.1 470.0C1175.6 471.8 1177.9 477.4 1177.4 479.2C1176.9 481.0 1172.8 482.8 1172.2 484.5C1171.5 486.1 1173.0 490.4 1172.2 492.4C1171.3 494.4 1167.1 498.1 1165.6 500.3C1164.1 502.5 1161.1 509.1 1160.3 510.1C1159.5 511.1 1159.4 508.5 1159.2 508.3M1193.3 446.2C1194.4 446.6 1200.3 447.4 1202.5 448.9C1204.6 450.4 1208.6 456.5 1210.4 458.1C1212.2 459.7 1216.3 460.6 1217.0 462.1C1217.7 463.5 1215.0 468.0 1215.7 470.0C1216.3 471.9 1220.6 476.1 1222.3 477.9C1223.9 479.7 1227.5 482.7 1228.9 484.5C1230.2 486.3 1232.2 490.4 1232.8 492.4C1233.5 494.4 1234.5 498.1 1234.1 500.3C1233.8 502.5 1230.7 508.8 1230.2 510.1M912.4 271.4C913.2 271.8 917.8 273.6 919.0 274.8C920.2 276.1 921.8 279.8 921.6 281.4C921.5 283.1 919.3 286.7 917.7 288.0C916.0 289.3 909.4 290.5 908.4 292.0C907.5 293.4 909.4 297.9 909.8 299.9C910.1 301.9 910.4 306.9 911.1 307.8C911.7 308.7 913.6 306.6 915.0 307.3C916.5 307.9 921.0 311.5 923.0 313.1C924.9 314.6 930.2 317.8 930.9 319.7C931.5 321.5 929.5 325.8 928.2 327.6C926.9 329.4 920.6 332.7 920.3 334.2C920.0 335.6 923.9 337.6 925.6 339.4C927.2 341.2 932.7 346.4 933.5 348.7C934.3 351.0 932.6 355.9 932.2 357.9C931.8 359.9 929.7 363.6 930.3 364.5C931.0 365.4 936.1 364.1 937.5 365.3C938.8 366.4 941.2 372.0 941.4 373.7C941.6 375.4 939.9 377.3 938.8 379.0C937.6 380.6 933.3 384.9 932.2 386.9C931.0 388.9 929.4 393.5 929.5 394.8C929.6 396.1 933.1 396.3 933.0 397.4C932.8 398.6 928.7 402.2 928.2 404.0C927.8 405.9 930.0 410.1 929.5 412.0C929.1 413.8 923.4 417.7 924.3 418.5C925.1 419.4 934.0 418.1 936.1 419.1C938.3 420.1 940.4 424.7 941.4 426.5C942.4 428.2 942.7 431.1 944.1 433.0C945.4 435.0 951.0 439.8 952.0 442.3C953.0 444.8 951.5 450.4 952.0 452.8C952.5 455.3 956.1 459.9 955.9 462.1C955.8 464.2 951.1 467.8 950.6 470.0C950.1 472.1 952.1 477.4 952.0 479.2C951.8 481.0 948.7 482.8 949.3 484.5C950.0 486.1 956.9 490.4 957.2 492.4C957.6 494.4 954.3 498.3 952.0 500.3C949.7 502.3 941.1 507.0 938.8 508.2C936.5 509.4 934.2 509.8 933.5 510.1M1016.6 381.6C1018.5 380.9 1025.1 380.4 1027.1 381.1C1029.1 381.8 1031.4 385.3 1032.4 386.9C1033.4 388.4 1034.0 391.8 1035.0 393.5C1036.0 395.1 1039.8 399.9 1040.3 400.1C1040.8 400.2 1037.8 395.5 1039.0 394.8C1040.1 394.2 1047.4 395.6 1049.5 394.8C1051.7 394.0 1055.3 389.7 1056.1 388.2C1057.0 386.7 1055.6 383.9 1056.1 382.9C1056.6 382.0 1058.3 380.0 1060.1 380.3C1061.9 380.6 1069.3 383.8 1070.6 385.6C1072.0 387.4 1071.5 393.0 1070.6 394.8C1069.8 396.6 1065.2 398.4 1064.0 400.1C1062.9 401.7 1061.4 405.7 1061.4 408.0C1061.4 410.3 1063.2 416.4 1064.0 418.5C1064.9 420.7 1067.0 423.7 1068.0 425.1C1069.0 426.6 1072.0 429.1 1072.0 430.4C1072.0 431.7 1069.3 434.9 1068.0 435.7C1066.7 436.5 1062.9 436.0 1061.4 437.0C1059.9 438.0 1058.1 442.8 1056.1 443.6C1054.2 444.4 1046.4 442.4 1045.6 443.6C1044.8 444.8 1048.7 450.4 1049.5 452.8C1050.4 455.3 1052.5 460.7 1052.2 463.4C1051.8 466.0 1046.9 472.1 1046.9 473.9C1046.9 475.7 1051.8 476.9 1052.2 477.9C1052.5 478.9 1050.7 481.2 1049.5 481.8C1048.4 482.4 1043.9 483.6 1042.9 482.6C1042.0 481.6 1042.1 476.3 1041.6 473.9C1041.1 471.5 1040.0 465.7 1039.0 463.4C1038.0 461.1 1034.7 457.4 1033.7 455.5C1032.7 453.5 1032.1 449.2 1031.1 447.6C1030.1 445.9 1026.5 443.8 1025.8 442.3C1025.1 440.8 1026.5 437.2 1025.8 435.7C1025.1 434.2 1021.7 432.1 1020.5 430.4C1019.4 428.8 1017.9 423.7 1016.6 422.5C1015.3 421.3 1011.8 420.7 1010.0 421.2C1008.2 421.7 1002.9 427.0 1002.1 426.5C1001.2 426.0 1003.1 419.9 1003.4 417.2C1003.7 414.6 1004.0 407.8 1004.7 405.4C1005.4 402.9 1007.8 399.8 1008.7 397.4C1009.5 395.1 1010.3 388.9 1011.3 386.9C1012.3 384.9 1014.6 382.3 1016.6 381.6M1378.8 124.3C1378.9 124.0 1379.0 121.3 1380.0 121.9C1381.0 122.4 1385.3 126.6 1386.6 128.5C1387.9 130.3 1389.1 134.6 1390.5 136.4C1392.0 138.2 1396.7 141.2 1398.5 143.0C1400.2 144.8 1403.4 148.9 1404.3 150.9C1405.1 152.9 1405.1 156.8 1405.1 158.8C1405.1 160.8 1404.1 164.7 1404.3 166.7C1404.4 168.7 1405.9 172.9 1406.4 174.6C1406.8 176.4 1406.9 179.7 1407.7 180.7C1408.5 181.7 1411.5 181.5 1413.0 182.5C1414.4 183.6 1418.4 187.7 1419.6 189.1C1420.7 190.5 1421.2 193.2 1422.2 193.9C1423.2 194.5 1426.0 193.7 1427.5 194.4C1429.0 195.1 1432.6 198.2 1434.1 199.7C1435.5 201.1 1438.5 204.6 1439.3 206.3C1440.2 207.9 1440.9 211.4 1440.7 212.8C1440.4 214.3 1438.6 217.3 1437.5 218.1C1436.3 218.9 1433.7 219.0 1431.4 219.4C1429.2 219.8 1422.4 220.7 1419.6 221.3C1416.8 221.8 1410.9 223.2 1409.0 223.9C1407.1 224.7 1404.9 226.4 1404.5 227.4C1404.2 228.3 1405.5 230.6 1406.4 231.3C1407.3 232.0 1410.8 231.6 1411.6 232.6C1412.5 233.6 1412.0 237.6 1413.0 239.2C1413.9 240.9 1418.0 244.0 1419.0 245.8C1420.0 247.6 1420.9 251.6 1420.9 253.7C1420.9 255.9 1419.7 261.3 1419.0 263.0C1418.4 264.6 1415.7 265.9 1415.6 266.9C1415.5 267.9 1416.8 270.2 1418.2 270.9C1419.7 271.5 1426.1 271.4 1427.5 272.2C1428.8 273.0 1429.1 276.0 1428.8 277.5C1428.5 278.9 1426.0 282.6 1424.8 284.1C1423.7 285.5 1420.7 288.0 1419.6 288.8C1418.4 289.6 1415.1 290.0 1415.6 290.6C1416.1 291.3 1422.0 293.7 1423.5 294.1C1425.0 294.5 1426.1 294.3 1427.5 293.8C1428.8 293.3 1432.1 290.3 1434.1 290.1C1436.0 289.9 1441.1 291.6 1443.3 292.0C1445.4 292.4 1449.2 293.2 1451.2 293.3C1453.2 293.3 1457.8 292.0 1459.1 292.5C1460.4 293.0 1461.2 296.0 1461.8 297.2C1462.3 298.5 1462.9 301.6 1463.9 302.5C1464.8 303.4 1467.9 304.2 1469.7 304.4C1471.4 304.5 1475.6 304.2 1477.6 303.8C1479.6 303.4 1483.7 302.0 1485.5 301.2C1487.3 300.4 1490.8 298.4 1492.1 297.8C1493.4 297.1 1495.0 295.8 1496.0 295.9C1497.0 296.0 1498.5 298.4 1500.0 298.6C1501.5 298.7 1506.6 296.7 1507.9 297.2C1509.2 297.7 1510.0 300.9 1510.5 302.5C1511.0 304.2 1511.4 308.4 1511.9 310.4C1512.4 312.4 1513.7 316.8 1514.5 318.3C1515.3 319.8 1516.8 322.0 1518.4 322.3C1520.1 322.6 1525.7 321.0 1527.7 321.0C1529.7 321.0 1533.0 321.6 1534.3 322.3C1535.5 322.9 1538.0 325.3 1537.7 326.2C1537.4 327.2 1532.6 328.9 1531.6 330.2C1530.7 331.5 1529.8 335.5 1530.3 336.8C1530.8 338.1 1534.7 339.3 1535.6 340.7C1536.5 342.2 1537.2 346.8 1537.7 348.7C1538.2 350.5 1538.8 353.6 1539.5 355.3C1540.3 356.9 1543.2 360.2 1544.0 361.8C1544.9 363.5 1545.8 366.5 1546.1 368.4C1546.5 370.4 1546.3 376.1 1546.7 377.7C1547.0 379.3 1549.3 380.3 1548.8 381.1C1548.2 381.9 1543.5 383.5 1542.2 384.3C1540.9 385.0 1538.4 385.3 1538.2 386.9C1538.1 388.5 1540.2 394.8 1540.9 397.4C1541.5 400.1 1542.5 406.2 1543.5 408.0C1544.5 409.8 1547.3 411.1 1548.8 412.0C1550.3 412.8 1554.1 413.4 1555.4 414.6C1556.7 415.7 1558.7 419.5 1559.3 421.2C1560.0 422.8 1560.0 426.5 1560.6 427.8C1561.3 429.1 1563.4 431.1 1564.6 431.7C1565.8 432.4 1568.7 433.7 1569.9 433.0C1571.0 432.4 1572.5 427.6 1573.8 426.5C1575.1 425.3 1578.9 424.7 1580.4 423.8C1581.9 422.9 1583.7 419.8 1585.7 419.1C1587.7 418.3 1593.6 418.1 1596.2 418.0C1598.9 418.0 1604.3 418.3 1606.8 418.5C1609.3 418.8 1614.4 419.0 1616.0 419.9C1617.7 420.7 1618.8 423.5 1620.0 425.1C1621.1 426.8 1623.9 431.1 1625.3 433.0C1626.6 435.0 1629.4 439.8 1630.5 441.0C1631.7 442.1 1633.3 442.4 1634.5 442.3C1635.6 442.1 1638.6 440.3 1639.8 439.6C1640.9 439.0 1642.2 437.0 1643.7 437.0C1645.2 437.0 1649.8 438.9 1651.6 439.6C1653.4 440.4 1657.3 441.3 1658.2 442.8C1659.1 444.3 1658.2 450.2 1659.0 451.5C1659.8 452.8 1663.4 453.4 1664.8 453.4C1666.2 453.4 1668.9 452.6 1670.1 451.5C1671.2 450.5 1672.4 446.4 1674.0 444.9C1675.7 443.4 1681.1 440.9 1683.3 439.6C1685.4 438.4 1689.2 435.8 1691.2 434.9C1693.2 434.0 1697.1 432.6 1699.1 432.3C1701.1 431.9 1705.4 432.2 1707.0 432.3C1708.7 432.4 1710.6 433.2 1712.3 433.0C1713.9 432.9 1718.2 431.8 1720.2 431.2C1722.2 430.6 1726.3 429.7 1728.1 428.6C1729.9 427.5 1733.2 423.7 1734.7 422.5C1736.2 421.3 1738.0 419.6 1740.0 419.1C1741.9 418.5 1748.9 417.6 1750.5 418.0C1752.2 418.4 1752.5 420.9 1753.2 422.5C1753.8 424.1 1754.6 429.7 1755.8 431.2C1756.9 432.8 1760.9 433.9 1762.4 434.9C1763.9 435.9 1766.8 437.9 1767.7 439.1C1768.5 440.4 1769.0 443.2 1769.0 444.9C1769.0 446.6 1767.2 451.2 1767.7 452.8C1768.2 454.5 1771.6 456.5 1772.9 458.1C1774.3 459.7 1776.9 464.0 1778.2 466.0C1779.5 468.0 1781.8 472.4 1783.5 473.9C1785.1 475.4 1789.4 476.9 1791.4 477.9C1793.4 478.9 1797.5 480.5 1799.3 481.8C1801.1 483.2 1804.6 486.6 1805.9 488.4C1807.2 490.2 1808.7 494.9 1809.9 496.3C1811.0 497.8 1813.6 499.6 1815.1 499.8C1816.6 499.9 1820.2 498.5 1821.7 497.7C1823.2 496.8 1826.4 495.1 1827.0 492.9C1827.6 490.8 1825.9 482.7 1826.2 480.5C1826.5 478.3 1827.4 475.9 1829.1 475.2C1830.9 474.6 1838.4 474.6 1840.2 475.2C1842.0 475.9 1842.8 478.9 1843.6 480.5C1844.4 482.2 1844.9 487.1 1846.2 488.4C1847.6 489.7 1852.6 490.5 1854.7 491.1C1856.7 491.6 1859.8 492.9 1862.6 492.9C1865.4 492.9 1875.0 490.5 1877.1 491.1C1879.2 491.7 1878.3 496.2 1879.7 497.7C1881.2 499.1 1886.3 501.8 1889.0 502.9C1891.6 504.1 1898.2 506.0 1900.8 506.9C1903.5 507.8 1908.9 509.2 1910.1 510.1C1911.3 510.9 1910.4 513.4 1910.5 513.9M1920.6 510.1C1921.6 509.4 1926.9 504.8 1928.5 504.8C1930.2 504.8 1933.1 509.4 1933.8 510.1M1809.9 496.3C1810.2 497.5 1812.4 503.9 1812.5 505.6C1812.6 507.3 1810.1 509.1 1810.4 510.1C1810.7 511.0 1814.3 512.9 1814.9 513.3M1381.8 405.4C1381.6 405.2 1379.6 404.5 1380.0 404.0C1380.4 403.5 1384.0 401.2 1385.3 401.4C1386.6 401.6 1389.2 404.4 1390.5 405.4C1391.9 406.3 1394.3 408.6 1395.8 409.3C1397.3 410.1 1401.1 411.6 1402.4 411.4C1403.7 411.3 1404.9 409.0 1406.4 408.0C1407.9 407.0 1412.6 404.2 1414.3 403.2C1415.9 402.3 1418.5 400.2 1419.6 400.1C1420.6 400.0 1422.7 401.1 1423.0 402.7C1423.3 404.4 1421.8 411.1 1422.2 413.3C1422.6 415.4 1424.8 418.2 1426.1 419.9C1427.5 421.5 1431.4 425.1 1432.7 426.5C1434.1 427.8 1436.5 428.8 1436.7 430.4C1436.9 432.1 1433.7 438.0 1434.1 439.6C1434.4 441.3 1438.2 442.3 1439.3 443.6C1440.5 444.9 1442.0 448.9 1443.3 450.2C1444.6 451.5 1449.4 452.8 1449.9 454.1C1450.4 455.5 1448.1 459.6 1447.2 460.7C1446.4 461.9 1443.5 462.5 1443.3 463.4C1443.1 464.3 1444.6 467.8 1445.9 468.1C1447.2 468.5 1451.5 466.1 1453.8 466.0C1456.1 465.9 1462.6 467.8 1464.4 467.3C1466.2 466.8 1467.4 462.6 1468.3 462.1C1469.3 461.6 1470.8 463.7 1472.3 463.4C1473.8 463.0 1477.9 459.6 1480.2 459.4C1482.5 459.3 1488.8 462.6 1490.8 462.1C1492.7 461.6 1494.4 456.5 1496.0 455.5C1497.7 454.5 1502.0 455.1 1503.9 454.1C1505.9 453.2 1509.9 448.2 1511.9 447.6C1513.8 446.9 1518.1 449.2 1519.8 448.9C1521.4 448.5 1524.1 445.9 1525.0 444.9C1526.0 443.9 1526.4 441.6 1527.7 441.0C1529.0 440.3 1533.9 440.5 1535.6 439.6C1537.2 438.8 1538.9 434.0 1540.9 433.8C1542.8 433.7 1549.1 438.1 1551.4 438.3C1553.7 438.6 1557.0 436.3 1559.3 435.7C1561.6 435.0 1568.6 433.4 1569.9 433.0M1490.8 462.1C1490.9 462.9 1492.1 466.8 1492.1 468.6C1492.1 470.5 1491.7 474.8 1490.8 476.6C1489.8 478.3 1485.0 480.5 1484.2 482.4C1483.3 484.2 1483.7 489.0 1484.2 491.1C1484.7 493.1 1486.6 497.5 1488.1 499.0C1489.6 500.5 1494.1 502.1 1496.0 502.9C1498.0 503.8 1501.6 504.9 1503.9 505.6C1506.3 506.2 1512.4 507.6 1514.5 508.2C1516.6 508.8 1520.4 509.6 1521.1 510.1C1521.7 510.5 1519.9 511.6 1519.7 511.8M265.5 500.0C264.8 500.8 261.7 504.9 260.2 506.6C258.7 508.2 255.3 511.0 253.6 513.2C252.0 515.3 248.5 521.6 247.0 523.7C245.5 525.9 243.1 528.8 241.8 530.3C240.4 531.8 237.6 534.0 236.5 535.6C235.3 537.2 233.8 541.4 232.5 543.5C231.2 545.7 227.2 550.9 225.9 552.7C224.7 554.6 222.6 556.2 222.5 558.0C222.4 559.8 224.7 564.9 225.4 567.2C226.1 569.6 227.5 574.0 228.0 576.5C228.6 578.9 229.4 584.4 229.9 587.0C230.3 589.7 231.7 595.3 231.7 597.6C231.7 599.9 230.4 603.3 229.9 605.5C229.3 607.6 226.6 612.7 227.2 614.7C227.9 616.7 233.0 619.8 235.2 621.3C237.3 622.8 243.1 625.1 244.4 626.6C245.7 628.1 245.4 631.2 245.7 633.2C246.0 635.2 246.9 641.3 247.0 642.4M247.0 642.4C246.4 641.8 243.1 638.8 241.8 637.7C240.4 636.5 237.4 633.8 235.9 633.2C234.5 632.5 231.5 632.7 229.9 632.6C228.3 632.6 224.7 633.1 223.3 632.6C221.9 632.2 219.6 629.4 218.5 628.7C217.5 628.0 215.6 626.9 214.9 627.1C214.1 627.3 212.7 629.1 212.2 630.5C211.7 632.0 211.6 636.6 210.6 638.4C209.7 640.3 206.1 643.1 204.8 645.0C203.6 647.0 201.9 652.1 200.9 654.3C199.9 656.4 197.7 660.0 196.9 662.2C196.2 664.3 195.3 669.1 194.8 671.4C194.3 673.7 193.7 678.5 193.0 680.6C192.2 682.8 190.0 686.6 189.0 688.6C188.0 690.5 186.5 694.8 185.1 696.5C183.6 698.1 178.8 700.5 177.1 701.7C175.5 703.0 173.4 705.1 171.9 706.2C170.4 707.4 166.1 710.4 165.3 711.0M165.3 734.7C166.1 734.5 170.2 733.9 171.9 733.4C173.5 732.9 176.8 730.7 178.5 730.7C180.1 730.7 184.1 732.2 185.1 733.4C186.0 734.5 185.9 738.3 186.4 740.0C186.9 741.6 188.2 744.8 189.0 746.6C189.8 748.4 191.6 753.0 193.0 754.5C194.3 756.0 197.9 758.1 199.6 758.4C201.2 758.8 204.7 756.5 206.1 757.1C207.6 757.8 210.1 761.7 211.4 763.7C212.7 765.7 215.7 770.8 216.7 772.9C217.7 775.1 218.2 780.0 219.3 780.9C220.5 781.7 224.1 780.0 225.9 779.5C227.7 779.1 232.0 776.9 233.8 777.4C235.7 777.9 238.9 782.1 240.4 783.5C241.9 784.9 244.9 787.4 245.7 788.8C246.5 790.1 246.8 792.6 246.5 794.0C246.2 795.5 243.0 799.3 243.1 800.6C243.1 802.0 246.0 804.3 247.0 804.6C248.0 804.9 250.3 804.4 251.0 803.3C251.6 802.1 251.1 795.9 252.3 795.4C253.5 794.9 258.6 799.1 260.2 799.3C261.9 799.5 264.3 798.3 265.5 796.7C266.6 795.0 268.5 788.1 269.4 786.1C270.4 784.2 271.9 781.2 273.4 780.9C274.9 780.5 279.7 782.7 281.3 783.5C283.0 784.3 285.3 786.3 286.6 787.4C287.9 788.6 290.2 791.6 291.9 792.7C293.5 793.9 298.0 795.7 299.8 796.7C301.6 797.7 304.9 800.5 306.4 800.6C307.8 800.8 310.2 798.8 311.6 798.0C313.1 797.2 316.1 794.4 318.2 794.0C320.4 793.7 326.1 794.9 328.8 795.4C331.4 795.9 337.3 797.2 339.3 798.0C341.3 798.8 343.4 800.8 344.6 802.0C345.8 803.1 347.2 806.7 348.6 807.2C349.9 807.7 353.5 806.5 355.1 805.9C356.8 805.3 360.1 803.1 361.7 802.7C363.4 802.4 366.5 802.5 368.3 803.3C370.1 804.0 374.1 807.4 376.2 808.5C378.4 809.7 383.5 812.3 385.5 812.5C387.5 812.7 390.3 810.5 392.1 809.9C393.9 809.2 398.3 808.0 400.0 807.2C401.6 806.4 403.6 803.5 405.3 803.3C406.9 803.0 411.0 805.1 413.2 805.4C415.3 805.7 420.4 805.3 422.4 805.9C424.4 806.5 427.7 808.5 429.0 809.9C430.3 811.2 431.6 815.0 432.9 816.5C434.3 817.9 437.9 820.4 439.5 821.7C441.2 823.0 444.6 825.4 446.1 827.0C447.6 828.7 450.1 833.0 451.4 834.9C452.7 836.8 454.9 841.4 456.7 842.0C458.5 842.7 463.8 840.8 465.9 840.2C468.0 839.6 472.0 838.7 473.8 837.6C475.6 836.4 478.9 833.1 480.4 831.0C481.9 828.8 484.2 822.6 485.7 820.4C487.2 818.3 490.1 814.9 492.3 813.8C494.4 812.8 499.9 812.4 502.8 812.0C505.8 811.6 512.7 811.0 516.0 810.7C519.3 810.3 525.9 809.5 529.2 809.1C532.5 808.6 539.4 808.0 542.4 807.2C545.4 806.5 550.3 804.1 552.9 803.3C555.6 802.4 560.8 801.0 563.5 800.6C566.1 800.3 571.4 800.8 574.0 800.6C576.7 800.5 582.4 800.3 584.6 799.3C586.7 798.3 589.7 794.7 591.2 792.7C592.7 790.7 595.4 785.8 596.4 783.5C597.5 781.2 599.3 776.7 599.9 774.3C600.4 771.8 599.9 765.4 600.9 763.7C602.0 762.1 605.9 761.7 608.3 761.1C610.7 760.5 617.2 759.6 620.2 759.0C623.1 758.3 630.2 757.0 632.0 755.8C633.9 754.6 633.5 750.5 634.7 749.2C635.8 747.9 639.6 745.1 641.3 745.3C642.9 745.4 646.7 751.0 647.9 750.5C649.0 750.0 649.5 743.1 650.5 741.3C651.5 739.5 654.3 736.5 655.8 736.0C657.3 735.5 660.6 736.8 662.4 737.3C664.2 737.8 668.5 740.3 670.3 740.0C672.1 739.6 675.1 734.9 676.9 734.7C678.7 734.5 682.8 738.0 684.8 738.7C686.8 739.3 690.9 740.3 692.7 740.0C694.5 739.6 697.6 737.3 699.3 736.0C700.9 734.7 704.2 730.4 705.9 729.4C707.5 728.4 711.0 727.9 712.5 728.1C714.0 728.3 716.3 731.2 717.8 730.7C719.2 730.3 722.4 725.3 724.3 724.2C726.3 723.0 731.9 721.4 733.6 721.5C735.2 721.7 736.2 725.0 737.5 725.5C738.9 726.0 742.3 725.4 744.1 725.5C745.9 725.6 750.1 725.6 752.0 726.3C754.0 726.9 758.1 729.2 759.9 730.7C761.8 732.3 765.1 737.0 766.5 738.7C768.0 740.3 770.1 742.9 771.8 743.9C773.5 744.9 779.1 746.1 780.0 746.6C780.9 747.0 779.3 747.5 779.2 747.6M247.0 642.4C247.2 643.6 247.5 649.7 248.3 651.6C249.2 653.6 252.1 656.9 253.6 658.2C255.1 659.5 258.1 661.9 260.2 662.2C262.4 662.4 268.8 659.7 270.8 660.3C272.7 661.0 274.7 665.7 276.0 667.5C277.4 669.2 279.5 673.1 281.3 674.1C283.1 675.0 288.9 674.5 290.5 675.4C292.2 676.2 293.5 680.4 294.5 680.6C295.5 680.9 297.3 677.1 298.4 677.2C299.6 677.4 301.7 681.4 303.7 682.0C305.7 682.6 313.0 682.0 314.3 682.0M314.3 682.0C315.4 682.5 321.5 684.4 323.5 685.9C325.5 687.4 328.1 692.5 330.1 693.8C332.1 695.1 337.8 695.3 339.3 696.5C340.8 697.6 340.8 701.6 342.0 703.1C343.1 704.5 346.9 707.0 348.6 708.3C350.2 709.7 354.2 712.0 355.1 713.6C356.1 715.3 355.5 720.9 356.5 721.5C357.5 722.2 361.2 719.6 363.1 718.9C364.9 718.2 369.2 716.4 371.0 715.7C372.8 715.0 376.6 712.0 377.6 713.1C378.5 714.1 378.5 721.8 378.4 724.2C378.3 726.5 376.5 730.3 376.8 732.1C377.0 733.9 378.9 737.5 380.2 738.7C381.5 739.8 385.1 741.3 386.8 741.3C388.4 741.3 392.2 739.3 393.4 738.7C394.5 738.0 395.4 735.7 396.0 736.0C396.7 736.4 397.5 740.0 398.7 741.3C399.8 742.6 403.6 745.1 405.3 746.6C406.9 748.1 410.4 751.5 411.8 753.2C413.3 754.8 416.1 758.3 417.1 759.8C418.1 761.2 419.8 763.5 419.8 765.0C419.8 766.5 417.1 770.1 417.1 771.6C417.1 773.1 418.6 775.4 419.8 776.9C420.9 778.4 425.0 782.1 426.4 783.5C427.7 784.9 430.5 786.9 430.3 788.2C430.1 789.6 425.9 792.5 425.0 794.0C424.2 795.6 424.0 799.1 423.7 800.6C423.4 802.1 422.6 805.2 422.4 805.9M314.3 682.0C314.4 681.3 315.1 678.3 315.6 676.7C316.1 675.0 317.7 670.8 318.2 668.8C318.7 666.8 319.7 662.7 319.5 660.9C319.4 659.1 316.9 656.4 316.9 654.3C316.9 652.1 318.6 645.9 319.5 643.7C320.5 641.6 323.7 639.1 324.8 637.1C326.0 635.2 327.6 629.7 328.8 627.9C329.9 626.1 332.1 623.3 334.1 622.6C336.0 622.0 342.0 622.6 344.6 622.6C347.2 622.6 353.0 623.0 355.1 622.6C357.3 622.3 360.1 620.2 361.7 620.0C363.4 619.8 366.5 621.0 368.3 620.8C370.1 620.5 373.9 618.7 376.2 618.1C378.6 617.6 384.5 617.2 386.8 616.6C389.1 616.0 392.7 614.0 394.7 613.4C396.7 612.8 400.8 612.5 402.6 612.1C404.4 611.7 408.4 611.1 409.2 610.2C410.0 609.4 410.2 606.6 409.2 605.5C408.2 604.4 402.5 602.7 401.3 601.5C400.1 600.4 401.1 597.3 400.0 596.3C398.9 595.2 392.3 593.5 392.6 592.8C392.9 592.2 400.9 591.9 402.6 591.0C404.4 590.1 406.4 587.2 406.6 585.7C406.7 584.2 403.8 580.9 403.9 579.1C404.1 577.3 407.5 573.2 407.9 571.2C408.3 569.2 406.7 564.6 407.4 563.3C408.0 562.0 411.1 561.1 413.2 560.7C415.2 560.2 421.4 559.2 423.7 559.3C426.0 559.5 430.0 561.6 431.6 562.0C433.3 562.3 435.9 563.0 436.9 562.0C437.9 561.0 437.9 555.7 439.5 554.1C441.2 552.4 447.4 550.1 450.1 548.8C452.7 547.5 458.7 545.2 460.6 543.5C462.6 541.9 464.6 537.2 465.9 535.6C467.2 534.0 469.6 531.5 471.2 530.3C472.8 529.2 478.1 527.5 478.6 526.4C479.1 525.2 475.4 522.7 475.1 521.1C474.9 519.4 474.6 514.7 476.5 513.2C478.3 511.7 486.7 510.1 489.6 509.2C492.6 508.4 497.7 507.4 500.2 506.6C502.7 505.8 508.4 503.1 509.4 502.6C510.4 502.2 508.3 502.9 508.1 502.9M436.9 562.0C437.4 562.8 439.7 566.6 440.9 568.6C442.0 570.5 445.0 575.5 446.1 577.8C447.3 580.1 449.4 584.6 450.1 587.0C450.7 589.5 450.9 595.3 451.4 597.6C451.9 599.9 454.0 603.5 454.0 605.5C454.0 607.5 451.6 611.4 451.4 613.4C451.2 615.4 451.2 620.2 452.7 621.3C454.2 622.5 461.6 621.6 463.3 622.6C464.9 623.6 466.6 628.1 465.9 629.2C465.2 630.4 458.8 630.9 458.0 631.9C457.2 632.8 458.3 635.6 459.3 637.1C460.3 638.6 464.1 642.6 465.9 643.7C467.7 644.9 472.0 645.2 473.8 646.4C475.6 647.5 479.3 651.3 480.4 653.0C481.6 654.6 481.9 659.7 483.0 659.5C484.2 659.4 488.7 651.8 489.6 651.6C490.6 651.5 491.0 656.6 491.0 658.2C491.0 659.9 488.8 663.7 489.6 664.8C490.5 666.0 497.1 666.3 497.6 667.5C498.0 668.6 493.4 673.9 493.6 674.1C493.8 674.2 497.1 669.9 498.9 668.8C500.7 667.6 506.1 665.6 508.1 664.8C510.1 664.0 513.9 661.9 514.7 662.2C515.5 662.5 513.4 666.1 514.7 667.5C516.0 668.8 523.1 671.2 525.2 672.7C527.4 674.2 530.8 677.5 531.8 679.3C532.8 681.1 533.2 685.8 533.2 687.2C533.2 688.7 532.0 690.7 531.8 691.2M531.8 691.2C531.3 691.7 528.7 693.7 527.9 695.1C527.1 696.6 525.2 701.1 525.2 703.1C525.2 705.0 527.4 708.7 527.9 711.0C528.4 713.3 529.2 718.7 529.2 721.5C529.2 724.3 528.9 731.9 527.9 733.4C526.9 734.9 523.1 733.4 521.3 733.4C519.5 733.4 515.4 732.9 513.4 733.4C511.4 733.9 507.4 735.9 505.5 737.3C503.5 738.8 499.5 743.3 497.6 745.3C495.6 747.2 491.5 751.4 489.6 753.2C487.8 755.0 484.2 758.3 483.0 759.8C481.9 761.2 481.2 763.7 480.4 765.0C479.6 766.4 477.8 768.8 476.5 770.3C475.1 771.8 471.3 775.1 469.9 776.9C468.4 778.7 465.7 782.7 464.6 784.8C463.4 787.0 461.3 791.9 460.6 794.0C460.0 796.2 459.1 800.1 459.3 802.0C459.5 803.8 461.3 806.9 462.0 808.5C462.6 810.2 464.1 813.5 464.6 815.1C465.1 816.8 466.1 820.1 465.9 821.7C465.7 823.4 463.9 826.7 463.3 828.3C462.6 830.0 461.5 833.2 460.6 834.9C459.8 836.6 457.2 841.1 456.7 842.0M531.8 691.2C532.8 691.4 537.9 691.9 539.7 692.5C541.6 693.2 544.9 696.3 546.3 696.5C547.8 696.6 550.3 693.3 551.6 693.8C552.9 694.3 555.6 699.1 556.9 700.4C558.2 701.7 560.8 704.2 562.2 704.4C563.5 704.5 566.4 702.7 567.4 701.7C568.4 700.8 569.0 697.2 570.1 696.5C571.2 695.7 575.0 694.2 576.1 695.7C577.3 697.2 577.9 706.3 579.3 708.3C580.7 710.4 584.9 711.5 587.2 712.3C589.5 713.1 595.5 714.4 597.8 714.9C600.1 715.5 604.4 717.3 605.7 716.8C607.0 716.3 606.7 711.5 608.3 711.0C610.0 710.4 616.9 711.3 618.9 712.3C620.8 713.3 622.8 717.2 624.1 718.9C625.5 720.5 628.1 724.8 629.4 725.5C630.7 726.1 634.2 725.1 634.7 724.2C635.2 723.2 632.4 718.6 633.4 717.6C634.4 716.6 642.1 717.1 642.6 716.2C643.1 715.4 637.0 712.5 637.3 711.0C637.7 709.5 643.3 705.4 645.2 704.4C647.2 703.4 651.7 702.2 653.1 703.1C654.6 703.9 655.8 710.3 657.1 711.0C658.4 711.6 662.0 709.0 663.7 708.3C665.3 707.7 668.1 705.7 670.3 705.7C672.4 705.7 678.7 708.2 680.8 708.3C683.0 708.5 685.3 707.8 687.4 707.0C689.6 706.2 696.0 702.2 698.0 701.7C700.0 701.2 701.6 703.4 703.2 703.1C704.9 702.7 709.5 699.4 711.2 699.1C712.8 698.8 715.1 699.3 716.4 700.4C717.8 701.6 720.7 706.2 721.7 708.3C722.7 710.5 723.9 715.7 724.3 717.6C724.8 719.5 725.5 722.9 725.7 723.6M587.2 500.0C587.7 501.0 590.5 505.9 591.2 507.9C591.8 509.9 592.0 513.8 592.5 515.8C593.0 517.8 595.1 521.8 595.1 523.7C595.1 525.7 592.3 529.7 592.5 531.6C592.7 533.6 596.4 537.6 596.4 539.6C596.4 541.5 593.8 545.3 592.5 547.5C591.2 549.6 586.8 554.9 585.9 556.7C585.0 558.5 584.8 560.2 585.1 562.0C585.4 563.8 587.6 568.7 588.5 571.2C589.5 573.7 591.7 579.1 592.5 581.8C593.3 584.4 594.6 590.0 595.1 592.3C595.6 594.6 596.8 598.2 596.4 600.2C596.1 602.2 593.1 606.1 592.5 608.1C591.8 610.1 591.0 614.1 591.2 616.0C591.3 618.0 593.8 621.6 593.8 623.9C593.8 626.3 591.3 632.2 591.2 634.5C591.0 636.8 592.7 640.3 592.5 642.4C592.3 644.5 589.9 649.3 589.9 651.6C589.9 653.9 591.7 658.4 592.5 660.9C593.3 663.3 596.4 669.1 596.4 671.4C596.4 673.7 592.5 677.2 592.5 679.3C592.5 681.5 595.5 686.4 596.4 688.6C597.4 690.7 599.6 694.8 600.4 696.5C601.2 698.1 602.2 700.3 603.0 701.7C603.9 703.2 606.3 707.2 607.0 708.3C607.7 709.5 608.1 710.6 608.3 711.0M732.9 501.6C733.2 501.4 734.0 499.0 734.9 500.0C735.8 501.0 739.0 508.0 740.2 510.0C741.3 512.0 742.1 514.6 744.1 515.8C746.1 517.0 753.5 519.1 756.0 519.8C758.5 520.5 760.9 521.5 763.9 521.6C766.9 521.7 778.0 520.5 780.0 520.6C782.0 520.7 779.8 522.1 779.8 522.3M763.9 521.6C763.2 522.2 759.9 525.1 758.6 526.4C757.3 527.6 753.8 530.2 753.4 531.6C752.9 533.1 754.0 536.9 754.7 538.2C755.3 539.6 758.8 541.0 758.6 542.2C758.5 543.3 754.5 546.1 753.4 547.5C752.2 548.8 749.2 551.6 749.4 552.7C749.6 553.9 754.7 555.2 754.7 556.7C754.7 558.2 749.7 562.8 749.4 564.6C749.1 566.4 750.9 570.0 752.0 571.2C753.2 572.4 758.1 572.7 758.6 573.8C759.1 575.0 755.8 578.8 756.0 580.4C756.2 582.1 759.1 585.2 759.9 587.0C760.8 588.8 762.4 592.8 762.6 594.9C762.7 597.1 760.9 602.2 761.3 604.2C761.6 606.1 764.9 609.3 765.2 610.8C765.6 612.2 765.1 614.9 763.9 616.0C762.7 617.2 757.5 619.1 756.0 620.0C754.5 620.9 753.5 623.6 752.0 623.4C750.6 623.3 746.1 619.4 744.1 618.7C742.1 617.9 738.0 616.9 736.2 617.4C734.4 617.8 731.3 621.6 729.6 622.6C728.0 623.6 724.5 623.8 723.0 625.3C721.5 626.7 718.9 632.7 717.8 634.5C716.6 636.3 714.5 638.1 713.8 639.8C713.1 641.4 712.3 645.4 712.5 647.7C712.6 650.0 714.6 655.6 715.1 658.2C715.6 660.9 716.1 666.5 716.4 668.8C716.8 671.1 717.9 674.5 717.8 676.7C717.6 678.8 715.6 683.8 715.1 685.9C714.6 688.1 714.3 692.2 713.8 693.8C713.3 695.5 711.5 698.4 711.2 699.1M770.0 521.1C771.3 521.3 777.9 522.6 780.5 522.4C783.2 522.3 788.1 520.3 791.1 519.8C794.1 519.3 801.5 518.3 804.3 518.5C807.1 518.6 811.7 521.3 813.5 521.1C815.3 520.9 817.1 517.7 818.8 517.1C820.4 516.5 824.7 516.2 826.7 516.4C828.7 516.5 832.6 518.4 834.6 518.5C836.6 518.6 840.4 517.4 842.5 517.1C844.7 516.9 849.9 517.2 851.8 516.4C853.6 515.5 855.7 512.0 857.0 510.5C858.3 509.1 860.8 505.3 862.3 504.7C863.8 504.2 867.6 504.7 868.9 505.8C870.1 506.9 871.7 511.3 872.3 513.2C873.0 515.1 873.3 519.4 874.2 521.1C875.1 522.7 879.3 524.7 879.4 526.4C879.6 528.0 875.7 532.6 875.5 534.3C875.3 535.9 877.8 537.9 878.1 539.6C878.5 541.2 877.1 546.2 878.1 547.5C879.1 548.7 883.7 549.2 886.0 549.6C888.3 549.9 893.9 550.2 896.6 550.1C899.2 550.0 905.3 549.4 907.1 548.8C908.9 548.1 909.6 545.5 911.1 544.8C912.6 544.2 917.2 544.3 919.0 543.5C920.8 542.7 924.3 538.7 925.6 538.2C926.9 537.7 929.1 539.4 929.5 539.6M952.0 500.0C950.3 501.0 941.7 506.5 938.8 508.2C935.8 509.8 930.0 512.1 928.2 513.2C926.4 514.3 924.7 515.7 924.3 517.1C923.9 518.6 925.3 523.3 925.1 525.1C924.8 526.8 922.0 530.1 922.4 531.1C922.8 532.1 927.3 531.9 928.2 533.0C929.1 534.0 929.4 538.7 929.5 539.6M929.5 539.6C929.9 540.4 932.0 544.5 932.2 546.1C932.3 547.8 930.2 551.1 930.9 552.7C931.5 554.4 937.0 557.7 937.5 559.3C938.0 561.0 934.7 564.3 934.8 565.9C935.0 567.6 938.6 571.0 938.8 572.5C938.9 574.0 937.1 576.6 936.1 577.8C935.2 578.9 931.8 580.4 931.4 581.8C931.0 583.1 932.1 586.9 933.0 588.3C933.9 589.8 937.6 592.1 938.8 593.6C940.0 595.1 941.4 598.7 942.7 600.2C944.1 601.7 947.8 604.7 949.3 605.5C950.8 606.3 954.3 606.1 954.6 606.8C954.9 607.5 952.3 610.3 952.0 610.8M952.0 610.8C952.3 611.1 953.0 613.0 954.6 613.4C956.2 613.8 963.2 614.6 965.1 613.9C967.1 613.3 969.1 609.7 970.4 608.1C971.7 606.6 973.9 602.7 975.7 601.5C977.5 600.4 982.6 599.5 984.9 598.9C987.2 598.3 992.2 598.2 994.2 597.0C996.1 595.9 1000.3 589.9 1000.7 589.7C1001.2 589.4 997.3 593.9 998.1 594.9C998.9 595.9 1004.9 596.9 1007.3 597.6C1009.8 598.2 1015.9 599.4 1017.9 600.2C1019.9 601.0 1022.2 604.8 1023.2 604.2C1024.2 603.5 1025.3 597.1 1025.8 594.9C1026.3 592.8 1026.1 588.2 1027.1 587.0C1028.1 585.9 1032.2 585.4 1033.7 585.7C1035.2 586.0 1037.3 589.8 1039.0 589.7C1040.6 589.5 1044.9 584.9 1046.9 584.4C1048.9 583.9 1053.3 584.9 1054.8 585.7C1056.3 586.5 1057.1 591.0 1058.8 591.0C1060.4 591.0 1065.7 586.4 1068.0 585.7C1070.3 585.0 1075.7 586.7 1077.2 585.7C1078.7 584.7 1078.7 579.6 1079.9 577.8C1081.0 576.0 1084.8 572.9 1086.5 571.2C1088.1 569.6 1091.4 566.4 1093.0 564.6C1094.7 562.8 1098.3 558.3 1099.6 556.7C1101.0 555.1 1103.6 552.6 1103.6 551.4C1103.6 550.3 1099.6 549.0 1099.6 547.5C1099.6 546.0 1102.9 541.5 1103.6 539.6C1104.3 537.6 1104.4 534.0 1104.9 531.6C1105.4 529.3 1107.6 523.4 1107.6 521.1C1107.6 518.8 1104.6 515.0 1104.9 513.2C1105.2 511.4 1108.2 507.9 1110.2 506.6C1112.2 505.3 1118.1 503.3 1120.7 502.6C1123.4 502.0 1129.1 500.5 1131.3 501.3C1133.4 502.1 1135.9 508.7 1137.9 509.2C1139.9 509.7 1144.6 505.3 1147.1 505.3C1149.6 505.3 1155.5 509.2 1157.7 509.2C1159.8 509.2 1163.1 506.4 1164.3 505.3C1165.4 504.1 1166.6 500.7 1166.9 500.0M1233.5 501.9C1232.9 501.6 1229.6 499.4 1228.9 500.0C1228.1 500.6 1227.2 504.9 1227.5 506.6C1227.9 508.2 1230.2 511.7 1231.5 513.2C1232.8 514.7 1236.4 517.5 1238.1 518.5C1239.7 519.4 1243.4 519.9 1244.7 521.1C1246.0 522.3 1248.0 526.2 1248.6 527.7C1249.3 529.2 1248.5 531.8 1250.0 533.0C1251.4 534.1 1258.7 535.6 1260.5 536.9C1262.3 538.2 1263.5 541.9 1264.5 543.5C1265.5 545.2 1268.1 548.5 1268.4 550.1C1268.7 551.8 1267.9 555.2 1267.1 556.7C1266.3 558.2 1262.7 560.7 1261.8 562.0C1260.9 563.3 1259.6 565.6 1260.0 567.2C1260.3 568.9 1263.4 573.3 1264.5 575.2C1265.5 577.0 1267.6 580.1 1268.4 581.8C1269.2 583.4 1270.6 586.5 1271.1 588.3C1271.5 590.2 1272.4 594.8 1272.4 596.3C1272.4 597.7 1271.2 599.7 1271.1 600.2M1271.1 600.2C1272.0 600.5 1276.7 601.9 1279.0 602.8C1281.3 603.8 1286.9 606.3 1289.5 607.6C1292.2 608.9 1297.8 611.8 1300.1 613.4C1302.4 614.9 1306.3 618.2 1308.0 620.0C1309.6 621.8 1311.4 626.6 1313.2 627.9C1315.1 629.2 1320.5 629.9 1322.5 630.5C1324.5 631.2 1328.4 632.4 1329.1 633.2C1329.7 634.0 1328.4 636.1 1327.8 637.1C1327.1 638.1 1323.5 639.8 1323.8 641.1C1324.1 642.4 1328.7 646.5 1330.4 647.7C1332.0 648.9 1335.2 650.0 1337.0 650.8C1338.8 651.7 1342.8 654.1 1344.9 654.3C1347.0 654.5 1352.0 652.3 1354.1 652.4C1356.3 652.6 1360.9 654.7 1362.0 655.6C1363.2 656.5 1362.4 659.9 1363.4 659.5C1364.3 659.2 1368.3 653.8 1369.9 653.0C1371.6 652.1 1374.6 651.9 1376.5 652.4C1378.5 652.9 1384.1 656.2 1385.8 656.9C1387.5 657.6 1389.8 657.8 1390.0 658.2C1390.2 658.7 1387.9 660.3 1387.6 660.6M1387.1 660.9C1386.4 661.9 1383.1 666.8 1381.8 668.8C1380.5 670.8 1378.0 676.4 1376.5 676.7C1375.1 677.0 1371.9 671.9 1369.9 671.4C1368.0 670.9 1363.0 672.2 1360.7 672.7C1358.4 673.2 1352.3 674.2 1351.5 675.4C1350.7 676.5 1352.3 680.6 1354.1 682.0C1355.9 683.3 1363.2 684.9 1366.0 685.9C1368.8 686.9 1374.9 688.9 1376.5 689.9C1378.2 690.9 1379.8 692.7 1379.2 693.8C1378.5 695.0 1373.6 697.8 1371.3 699.1C1369.0 700.4 1363.7 703.1 1360.7 704.4C1357.8 705.7 1350.2 708.5 1347.5 709.7C1344.9 710.8 1340.4 712.0 1339.6 713.6C1338.8 715.3 1340.4 720.5 1340.9 722.8C1341.4 725.1 1343.1 729.9 1343.6 732.1C1344.1 734.2 1344.4 737.8 1344.9 740.0C1345.4 742.1 1347.4 747.1 1347.5 749.2C1347.7 751.4 1347.2 755.3 1346.2 757.1C1345.2 758.9 1341.4 762.1 1339.6 763.7C1337.8 765.4 1333.7 769.0 1331.7 770.3C1329.7 771.6 1325.3 774.4 1323.8 774.3C1322.3 774.1 1320.7 768.3 1319.8 769.0C1319.0 769.6 1318.7 777.6 1317.2 779.5C1315.7 781.5 1310.1 783.5 1308.0 784.8C1305.8 786.1 1301.9 789.1 1300.1 790.1C1298.3 791.1 1295.1 792.7 1293.5 792.7C1291.8 792.7 1287.7 790.4 1286.9 790.1M1271.1 600.2C1270.7 601.2 1268.4 606.1 1268.4 608.1C1268.4 610.1 1270.6 613.9 1271.1 616.0C1271.5 618.2 1271.7 623.0 1272.4 625.3C1273.0 627.6 1275.5 632.8 1276.3 634.5C1277.2 636.1 1279.5 637.3 1279.0 638.4C1278.5 639.6 1274.0 642.7 1272.4 643.7C1270.7 644.7 1267.6 645.9 1265.8 646.4C1264.0 646.9 1259.7 647.0 1257.9 647.7C1256.1 648.3 1252.9 651.0 1251.3 651.6C1249.6 652.2 1245.8 653.1 1244.7 652.4C1243.5 651.8 1242.5 647.9 1242.0 646.4C1241.6 644.8 1241.4 641.4 1240.7 639.8C1240.1 638.1 1237.8 634.2 1236.8 633.2C1235.8 632.2 1233.8 631.9 1232.8 631.9C1231.8 631.9 1229.8 633.8 1228.9 633.2C1227.9 632.5 1226.2 626.9 1224.9 626.6C1223.6 626.3 1219.8 629.2 1218.3 630.5C1216.8 631.9 1214.5 635.5 1213.0 637.1C1211.6 638.8 1207.9 641.7 1206.4 643.7C1205.0 645.7 1202.3 651.5 1201.2 653.0C1200.0 654.4 1198.4 655.6 1197.2 655.6C1196.1 655.6 1193.3 652.8 1191.9 653.0C1190.6 653.1 1188.3 655.8 1186.7 656.9C1185.0 658.1 1180.2 662.3 1178.8 662.2C1177.3 662.0 1176.1 656.9 1174.8 655.6C1173.5 654.3 1170.0 652.5 1168.2 651.6C1166.4 650.8 1161.9 649.0 1160.3 649.0C1158.6 649.0 1156.8 651.3 1155.0 651.6C1153.2 652.0 1147.4 651.0 1145.8 651.6C1144.1 652.3 1142.3 655.1 1141.8 656.9C1141.3 658.7 1142.3 664.2 1141.8 666.1C1141.3 668.1 1138.9 671.2 1137.9 672.7C1136.9 674.2 1135.4 676.9 1133.9 678.0C1132.4 679.2 1127.7 681.3 1126.0 682.0C1124.4 682.6 1122.4 683.4 1120.7 683.3C1119.1 683.1 1114.8 681.1 1112.8 680.6C1110.8 680.1 1106.9 679.0 1104.9 679.3C1102.9 679.7 1098.8 683.0 1097.0 683.3C1095.2 683.6 1092.2 682.5 1090.4 682.0C1088.6 681.5 1084.6 679.7 1082.5 679.3C1080.4 679.0 1075.2 679.2 1073.3 679.3C1071.3 679.5 1068.7 681.0 1066.7 680.6C1064.7 680.3 1059.4 676.9 1057.4 676.7C1055.5 676.5 1052.3 678.3 1050.9 679.3C1049.4 680.3 1046.1 683.0 1045.6 684.6C1045.1 686.2 1047.4 690.9 1046.9 692.5C1046.4 694.2 1042.6 696.6 1041.6 697.8C1040.6 698.9 1038.7 700.9 1039.0 701.7C1039.3 702.6 1043.9 703.4 1044.3 704.4C1044.6 705.4 1042.9 708.8 1041.6 709.7C1040.3 710.5 1035.2 711.3 1033.7 711.0C1032.2 710.6 1030.9 707.0 1029.8 707.0C1028.6 707.0 1025.3 709.8 1024.5 711.0C1023.7 712.1 1024.3 715.3 1023.2 716.2C1022.0 717.2 1017.1 718.1 1015.3 718.9C1013.4 719.7 1010.1 722.8 1008.7 722.8C1007.2 722.8 1004.9 718.9 1003.4 718.9C1001.9 718.9 998.4 721.8 996.8 722.8C995.1 723.8 991.7 726.0 990.2 726.8C988.7 727.6 985.6 729.1 984.9 729.4M952.0 610.8C951.8 611.7 951.3 616.7 950.6 618.7C950.0 620.6 947.8 624.9 946.7 626.6C945.5 628.2 942.1 630.5 941.4 631.9C940.8 633.2 940.4 636.1 941.4 637.1C942.4 638.1 948.8 638.6 949.3 639.8C949.8 640.9 945.2 644.7 945.4 646.4C945.5 648.0 949.5 651.6 950.6 653.0C951.8 654.3 953.9 655.4 954.6 656.9C955.3 658.4 955.3 663.0 955.9 664.8C956.6 666.6 958.6 670.1 959.9 671.4C961.2 672.7 965.3 674.1 966.5 675.4C967.6 676.7 968.9 680.5 969.1 682.0C969.3 683.4 967.3 686.1 967.8 687.2C968.3 688.4 971.6 690.2 973.1 691.2C974.5 692.2 978.7 693.7 979.7 695.1C980.6 696.6 980.3 701.2 981.0 703.1C981.6 704.9 984.4 708.2 984.9 709.7C985.4 711.1 985.6 713.6 984.9 714.9C984.3 716.2 980.3 718.9 979.7 720.2C979.0 721.5 979.0 724.3 979.7 725.5C980.3 726.6 984.3 728.9 984.9 729.4M984.9 729.4C984.4 730.3 981.8 734.9 981.0 736.0C980.1 737.2 979.2 739.5 978.3 738.7C977.5 737.8 975.5 730.1 974.4 729.4C973.2 728.8 970.4 732.2 969.1 733.4C967.8 734.5 965.0 737.3 963.8 738.7C962.7 740.0 960.5 742.5 959.9 743.9C959.2 745.4 959.0 749.0 958.6 750.5C958.1 752.0 955.9 754.6 955.9 755.8C955.9 757.0 957.9 758.8 958.6 759.8C959.2 760.7 960.9 763.2 961.2 763.7M770.9 743.0C770.8 743.1 769.1 743.5 770.0 743.9C770.9 744.4 776.1 745.6 777.9 746.6C779.7 747.6 783.2 750.2 784.5 751.8C785.8 753.5 787.1 759.1 788.5 759.8C789.8 760.4 793.4 756.6 795.1 757.1C796.7 757.6 799.8 763.4 801.6 763.7C803.5 764.0 807.9 759.4 809.6 759.8C811.2 760.1 814.8 764.9 814.8 766.4C814.8 767.8 810.1 770.3 809.6 771.6C809.1 772.9 809.9 776.9 810.9 776.9C811.9 776.9 816.1 771.8 817.5 771.6C818.8 771.5 820.6 774.1 821.4 775.6C822.2 777.1 823.2 782.3 824.1 783.5C824.9 784.6 827.4 785.6 828.0 784.8C828.7 784.0 828.8 778.5 829.3 776.9C829.8 775.3 830.5 772.0 832.0 771.6C833.5 771.3 839.1 773.8 841.2 774.3C843.3 774.8 847.0 775.3 849.1 775.6C851.3 775.9 856.9 775.7 858.3 776.9C859.8 778.1 860.3 782.8 861.0 784.8C861.6 786.9 862.3 792.3 863.6 793.2C864.9 794.2 869.7 793.1 871.5 792.7C873.3 792.3 876.5 791.2 878.1 790.1C879.8 788.9 884.1 785.1 884.7 783.5C885.4 781.8 882.9 778.2 883.4 776.9C883.9 775.6 887.4 772.9 888.7 772.9C890.0 772.9 892.3 775.7 893.9 776.9C895.6 778.1 899.9 781.3 901.9 782.2C903.8 783.0 907.8 783.7 909.8 783.5C911.7 783.3 915.7 781.5 917.7 780.9C919.7 780.2 923.6 778.0 925.6 778.2C927.6 778.4 931.5 782.0 933.5 782.7C935.5 783.4 939.3 783.6 941.4 783.5C943.6 783.4 949.3 783.0 950.6 782.2C952.0 781.3 952.1 778.4 952.0 776.9C951.8 775.4 949.0 771.5 949.3 770.3C949.7 769.2 953.1 768.5 954.6 767.7C956.1 766.8 960.4 764.2 961.2 763.7M863.6 793.2C864.4 794.2 868.4 798.9 870.2 800.6C872.0 802.4 876.3 806.9 878.1 807.2C879.9 807.6 883.1 804.1 884.7 803.3C886.4 802.4 890.0 800.3 891.3 800.6C892.6 801.0 894.4 804.3 895.3 805.9C896.1 807.6 896.7 812.5 897.9 813.8C899.1 815.1 904.2 815.1 904.5 816.5C904.8 817.8 901.2 822.6 900.5 824.4C899.9 826.2 898.7 829.8 899.2 831.0C899.7 832.1 904.3 832.3 904.5 833.6C904.7 834.9 901.2 839.4 900.5 841.5C899.9 843.7 899.5 848.6 899.2 850.7C898.9 852.9 898.6 856.7 897.9 858.6C897.2 860.6 894.6 864.6 893.9 866.6C893.3 868.5 892.3 872.5 892.6 874.5C893.0 876.5 895.4 881.6 896.6 882.4C897.7 883.2 900.4 880.2 901.9 881.1C903.3 881.9 907.0 887.2 908.4 889.0C909.9 890.8 912.2 894.2 913.7 895.6C915.2 897.0 919.8 899.5 920.3 900.1C920.8 900.6 917.9 900.3 917.5 900.3M961.2 763.7C961.7 763.4 964.2 761.1 965.1 761.1C966.1 761.1 968.3 762.9 969.1 763.7C969.9 764.5 970.9 768.0 971.7 767.7C972.6 767.3 974.5 761.9 975.7 761.1C976.8 760.3 979.8 760.4 981.0 761.1C982.1 761.7 983.9 765.0 984.9 766.4C985.9 767.7 987.1 770.8 988.9 771.6C990.7 772.4 996.8 772.6 999.4 772.9C1002.1 773.3 1007.8 773.9 1010.0 774.3C1012.1 774.6 1015.6 775.9 1016.6 775.6C1017.6 775.3 1017.7 772.1 1017.9 771.6M1017.9 771.6C1018.5 771.5 1021.2 770.5 1023.2 770.3C1025.1 770.1 1031.4 770.1 1033.7 770.3C1036.0 770.5 1039.8 771.3 1041.6 771.6C1043.4 772.0 1046.7 773.3 1048.2 772.9C1049.7 772.6 1051.7 769.6 1053.5 769.0C1055.3 768.3 1060.9 767.5 1062.7 767.7C1064.5 767.8 1066.7 770.3 1068.0 770.3C1069.3 770.3 1072.1 767.7 1073.3 767.7C1074.4 767.7 1075.9 770.5 1077.2 770.3C1078.5 770.1 1082.2 767.4 1083.8 766.4C1085.5 765.3 1088.4 762.3 1090.4 761.6C1092.4 760.9 1097.7 760.8 1099.6 761.1C1101.6 761.3 1105.1 762.2 1106.2 763.7C1107.4 765.2 1108.0 771.3 1108.9 772.9C1109.7 774.6 1111.0 776.2 1112.8 776.9C1114.6 777.6 1121.6 778.2 1123.4 778.2C1125.2 778.2 1125.8 776.9 1127.3 776.9C1128.8 776.9 1133.8 777.1 1135.2 778.2C1136.7 779.4 1138.4 786.0 1139.2 786.1C1140.0 786.3 1140.5 780.7 1141.8 779.5C1143.2 778.4 1147.8 776.9 1149.7 776.9C1151.7 776.9 1155.7 778.9 1157.7 779.5C1159.6 780.2 1164.4 781.0 1165.6 782.2C1166.7 783.3 1167.5 787.4 1166.9 788.8C1166.2 790.1 1160.6 791.2 1160.3 792.7C1160.0 794.2 1162.9 799.0 1164.3 800.6C1165.6 802.3 1169.4 804.3 1170.8 805.9C1172.3 807.6 1175.8 812.0 1176.1 813.8C1176.4 815.6 1173.6 818.6 1173.5 820.4C1173.3 822.2 1173.2 827.3 1174.8 828.3C1176.4 829.3 1184.5 828.7 1186.7 828.3C1188.8 828.0 1190.6 825.4 1191.9 825.7C1193.3 826.0 1195.7 829.6 1197.2 831.0C1198.7 832.3 1202.3 836.2 1203.8 836.2C1205.3 836.2 1207.9 832.4 1209.1 831.0C1210.2 829.5 1211.6 825.4 1213.0 824.4C1214.5 823.4 1219.0 822.7 1220.9 823.0C1222.9 823.4 1226.6 826.2 1228.9 827.0C1231.2 827.8 1237.1 829.5 1239.4 829.6C1241.7 829.8 1245.2 828.7 1247.3 828.3C1249.5 828.0 1255.2 828.2 1256.6 827.0C1257.9 825.9 1257.2 820.6 1257.9 819.1C1258.5 817.6 1261.5 816.5 1261.8 815.1C1262.2 813.8 1260.0 810.4 1260.5 808.5C1261.0 806.7 1264.1 801.8 1265.8 800.6C1267.4 799.5 1271.7 800.3 1273.7 799.3C1275.7 798.3 1280.0 793.9 1281.6 792.7C1283.3 791.6 1286.2 790.4 1286.9 790.1M1017.9 771.6C1017.7 772.6 1018.1 777.9 1016.6 779.5C1015.1 781.2 1007.3 783.2 1006.0 784.8C1004.7 786.5 1005.4 790.7 1006.0 792.7C1006.7 794.7 1010.1 798.7 1011.3 800.6C1012.5 802.6 1014.6 806.2 1015.3 808.5C1015.9 810.9 1016.1 817.0 1016.6 819.1C1017.1 821.2 1018.2 824.4 1019.2 825.7C1020.2 827.0 1024.0 828.2 1024.5 829.6C1025.0 831.1 1022.8 835.9 1023.2 837.6C1023.5 839.2 1026.6 841.2 1027.1 842.8C1027.6 844.5 1026.3 849.3 1027.1 850.7C1027.9 852.2 1031.6 854.4 1033.7 854.7C1035.9 855.0 1041.8 853.4 1044.3 853.4C1046.7 853.4 1052.0 853.9 1053.5 854.7C1055.0 855.5 1055.1 860.1 1056.1 860.0C1057.1 859.8 1060.2 853.7 1061.4 853.4C1062.6 853.0 1064.4 856.2 1065.4 857.3C1066.3 858.5 1068.2 861.3 1069.3 862.6C1070.5 863.9 1074.1 866.1 1074.6 867.9C1075.1 869.7 1073.8 875.0 1073.3 877.1C1072.8 879.3 1070.6 882.9 1070.6 885.0C1070.6 887.2 1072.6 892.4 1073.3 894.3C1073.9 896.1 1075.9 899.2 1075.9 900.1C1076.0 900.9 1073.9 901.0 1073.7 901.2M1293.5 792.7C1294.0 793.4 1296.9 796.3 1297.4 798.0C1297.9 799.6 1296.9 803.9 1297.4 805.9C1297.9 807.9 1301.1 811.5 1301.4 813.8C1301.7 816.1 1299.9 821.6 1300.1 824.4C1300.2 827.2 1303.5 834.1 1302.7 836.2C1301.9 838.4 1294.3 839.7 1293.5 841.5C1292.6 843.3 1296.1 848.6 1296.1 850.7C1296.1 852.9 1292.6 857.3 1293.5 858.6C1294.3 860.0 1300.2 860.5 1302.7 861.3C1305.2 862.1 1310.6 864.4 1313.2 865.2C1315.9 866.1 1322.0 866.7 1323.8 867.9C1325.6 869.0 1326.1 874.1 1327.8 874.5C1329.4 874.8 1334.8 871.5 1337.0 870.5C1339.1 869.5 1343.1 867.6 1344.9 866.6C1346.7 865.6 1350.2 862.3 1351.5 862.6C1352.8 862.9 1354.0 867.7 1355.4 869.2C1356.9 870.7 1360.7 874.0 1363.4 874.5C1366.0 875.0 1373.2 873.5 1376.5 873.2C1379.9 872.8 1388.4 871.3 1390.0 871.3C1391.6 871.3 1389.6 872.7 1389.6 872.9M1302.7 861.3C1303.0 862.3 1305.0 866.9 1305.3 869.2C1305.7 871.5 1305.8 877.8 1305.3 879.7C1304.8 881.7 1302.5 884.0 1301.4 885.0C1300.2 886.0 1296.3 886.7 1296.1 887.7C1295.9 888.6 1298.9 891.4 1300.1 892.9C1301.2 894.5 1304.4 899.0 1305.3 900.1C1306.3 901.1 1307.3 901.3 1307.5 901.4M1488.1 500.0C1489.3 500.4 1495.0 502.2 1497.4 503.2C1499.7 504.1 1504.4 506.8 1506.6 507.4C1508.7 508.0 1512.8 507.4 1514.5 507.9C1516.1 508.5 1519.1 510.2 1519.8 511.9C1520.4 513.5 1519.3 519.0 1519.8 521.1C1520.3 523.2 1522.4 527.5 1523.7 529.0C1525.0 530.5 1528.5 532.3 1530.3 533.0C1532.1 533.6 1536.4 534.2 1538.2 534.3C1540.0 534.4 1544.0 532.9 1544.8 533.8C1545.6 534.6 1544.5 539.2 1544.8 540.9C1545.2 542.6 1546.8 546.0 1547.5 547.5C1548.1 549.0 1550.9 551.7 1550.1 552.7C1549.3 553.8 1541.0 554.8 1540.9 555.9C1540.7 557.1 1549.4 560.8 1548.8 562.0C1548.1 563.2 1537.6 564.4 1535.6 565.4C1533.6 566.4 1532.6 568.3 1533.0 569.9C1533.3 571.4 1538.2 575.8 1538.2 577.8C1538.2 579.8 1534.8 583.8 1533.0 585.7C1531.1 587.6 1526.4 591.7 1523.7 592.8C1521.1 593.9 1514.3 594.6 1511.9 594.4C1509.4 594.2 1505.9 590.3 1503.9 591.0C1502.0 591.7 1496.7 598.1 1496.0 600.2C1495.4 602.4 1498.2 606.3 1498.7 608.1C1499.2 609.9 1499.8 613.9 1500.0 614.7M1381.1 654.6C1381.0 654.9 1379.5 656.5 1380.0 656.9C1380.5 657.4 1383.8 657.2 1385.3 658.2C1386.8 659.2 1390.1 663.3 1391.9 664.8C1393.7 666.3 1397.6 669.1 1399.8 670.1C1401.9 671.1 1406.9 672.1 1409.0 672.7C1411.2 673.4 1415.4 674.4 1416.9 675.4C1418.4 676.4 1419.6 680.6 1420.9 680.6C1422.2 680.6 1427.0 676.9 1427.5 675.4C1428.0 673.9 1424.5 670.3 1424.8 668.8C1425.2 667.3 1429.9 665.2 1430.1 663.5C1430.3 661.9 1426.5 657.6 1426.1 655.6C1425.8 653.6 1426.6 649.7 1427.5 647.7C1428.3 645.7 1431.3 641.9 1432.7 639.8C1434.2 637.6 1437.4 632.2 1439.3 630.5C1441.3 628.9 1445.8 627.7 1448.6 626.6C1451.4 625.4 1458.5 622.6 1461.8 621.3C1465.0 620.0 1472.5 617.0 1474.9 616.0C1477.4 615.0 1480.0 613.2 1481.5 613.4C1483.0 613.6 1485.5 617.4 1486.8 617.4C1488.1 617.4 1490.4 613.7 1492.1 613.4C1493.7 613.1 1497.5 614.5 1500.0 614.7C1502.5 614.9 1509.4 614.7 1511.9 615.2C1514.3 615.7 1517.8 617.3 1519.8 618.7C1521.7 620.1 1525.7 624.6 1527.7 626.6C1529.7 628.6 1533.4 632.5 1535.6 634.5C1537.7 636.5 1542.5 641.1 1544.8 642.4C1547.1 643.7 1551.6 644.5 1554.1 645.0C1556.5 645.5 1562.0 645.9 1564.6 646.4C1567.2 646.9 1573.0 648.3 1575.1 649.0C1577.3 649.7 1579.8 652.0 1581.7 651.6C1583.7 651.3 1588.8 647.2 1591.0 646.4C1593.1 645.5 1597.6 644.2 1598.9 645.0C1600.2 645.9 1600.9 651.3 1601.5 653.0C1602.2 654.6 1604.3 656.9 1604.2 658.2C1604.0 659.5 1599.7 662.7 1600.2 663.5C1600.7 664.3 1606.3 663.8 1608.1 664.8C1609.9 665.8 1613.1 669.6 1614.7 671.4C1616.4 673.2 1621.1 678.0 1621.3 679.3C1621.5 680.6 1615.9 680.8 1616.0 682.0C1616.2 683.1 1620.8 686.9 1622.6 688.6C1624.4 690.2 1629.0 693.7 1630.5 695.1C1632.0 696.6 1634.2 698.4 1634.5 700.4C1634.8 702.4 1632.5 709.5 1633.2 711.0C1633.8 712.5 1638.4 712.9 1639.8 712.3C1641.1 711.6 1642.6 707.3 1643.7 705.7C1644.9 704.0 1647.8 700.4 1649.0 699.1C1650.1 697.8 1651.6 695.1 1652.9 695.1C1654.3 695.1 1658.1 698.1 1659.5 699.1C1661.0 700.1 1663.3 702.7 1664.8 703.1C1666.3 703.4 1669.8 702.4 1671.4 701.7C1673.1 701.1 1677.2 697.8 1678.0 697.8C1678.8 697.8 1678.0 701.2 1678.0 701.7M1678.0 701.7C1677.9 700.3 1677.7 692.7 1677.5 689.9C1677.2 687.1 1676.2 681.3 1675.9 679.3C1675.6 677.3 1674.2 674.9 1674.8 674.1C1675.4 673.2 1678.9 672.7 1680.6 672.7C1682.3 672.7 1686.7 674.2 1688.5 674.1C1690.4 673.9 1693.3 671.4 1695.1 671.4C1697.0 671.4 1701.2 673.2 1703.0 674.1C1704.9 674.9 1709.1 678.0 1709.6 678.0C1710.1 678.0 1706.3 675.7 1707.0 674.1C1707.7 672.4 1712.9 665.5 1714.9 664.8C1716.9 664.2 1721.5 668.9 1722.8 668.8C1724.1 668.6 1724.3 665.0 1725.5 663.5C1726.6 662.0 1730.4 658.2 1732.1 656.9C1733.7 655.6 1738.0 654.4 1738.6 653.0C1739.3 651.5 1736.8 647.0 1737.3 645.0C1737.8 643.1 1741.1 638.9 1742.6 637.1C1744.1 635.3 1747.1 632.2 1749.2 630.5C1751.3 628.9 1757.1 625.5 1759.7 623.9C1762.4 622.4 1769.1 619.5 1770.3 618.1C1771.4 616.8 1770.3 614.2 1769.0 613.4C1767.7 612.6 1760.6 613.1 1759.7 612.1C1758.9 611.1 1760.7 606.4 1762.4 605.5C1764.0 604.6 1770.5 604.8 1772.9 605.0C1775.4 605.1 1779.9 606.4 1782.2 606.8C1784.5 607.2 1789.6 608.3 1791.4 608.1C1793.2 608.0 1796.0 605.8 1796.7 605.5M1796.7 605.5C1797.3 604.8 1801.6 602.0 1801.9 600.2C1802.3 598.4 1799.8 593.3 1799.3 591.0C1798.8 588.7 1798.5 583.9 1798.0 581.8C1797.5 579.6 1795.2 575.7 1795.3 573.8C1795.5 572.0 1798.2 568.6 1799.3 567.2C1800.5 565.9 1803.8 564.8 1804.6 563.3C1805.4 561.8 1806.1 557.2 1805.9 555.4C1805.7 553.6 1803.1 550.8 1803.3 548.8C1803.4 546.8 1807.0 542.2 1807.2 539.6C1807.4 536.9 1804.6 530.3 1805.1 527.7C1805.6 525.1 1809.6 520.8 1811.2 518.5C1812.8 516.2 1817.6 511.5 1817.8 509.2C1817.9 506.9 1813.3 501.1 1812.5 500.0C1811.6 498.9 1811.2 500.4 1811.0 500.4M1796.7 605.5C1796.8 606.5 1797.0 611.9 1798.0 613.4C1799.0 614.9 1802.8 617.0 1804.6 617.4C1806.4 617.7 1810.8 616.0 1812.5 616.0C1814.1 616.0 1817.3 615.7 1817.8 617.4C1818.3 619.0 1816.3 626.4 1816.4 629.2C1816.6 632.0 1819.2 637.3 1819.1 639.8C1818.9 642.2 1814.6 647.7 1815.1 649.0C1815.6 650.3 1820.9 650.0 1823.0 650.3C1825.2 650.6 1830.6 650.3 1832.3 651.6C1833.9 653.0 1835.2 658.9 1836.2 660.9C1837.2 662.8 1839.5 665.5 1840.2 667.5C1840.8 669.4 1841.8 674.5 1841.5 676.7C1841.2 678.8 1838.2 682.6 1837.5 684.6C1836.9 686.6 1836.2 690.2 1836.2 692.5C1836.2 694.8 1837.0 700.8 1837.5 703.1C1838.0 705.4 1839.7 709.0 1840.2 711.0C1840.7 712.9 1840.8 716.9 1841.5 718.9C1842.2 720.9 1843.8 725.6 1845.5 726.8C1847.1 727.9 1853.0 727.1 1854.7 728.1C1856.3 729.1 1857.8 733.1 1858.6 734.7C1859.5 736.4 1861.9 739.8 1861.3 741.3C1860.6 742.8 1854.2 745.1 1853.4 746.6C1852.5 748.1 1853.5 752.3 1854.7 753.2C1855.8 754.1 1860.6 753.8 1862.6 753.7C1864.6 753.6 1869.2 751.9 1870.5 752.6C1871.8 753.4 1872.5 757.7 1873.1 759.8C1873.8 761.8 1874.5 767.3 1875.8 769.0C1877.1 770.6 1881.5 772.0 1883.7 772.9C1885.8 773.9 1891.3 775.6 1892.9 776.9C1894.6 778.2 1896.7 782.0 1896.9 783.5C1897.0 785.0 1893.9 787.6 1894.2 788.8C1894.6 789.9 1897.5 792.2 1899.5 792.7C1901.5 793.3 1907.8 793.1 1910.1 793.2C1912.4 793.4 1917.2 792.8 1918.0 794.0C1918.8 795.3 1916.5 801.1 1916.7 803.3C1916.8 805.4 1919.1 809.4 1919.3 811.2C1919.5 813.0 1918.1 817.0 1918.0 817.8M1836.4 901.8C1836.7 901.6 1838.7 901.8 1838.9 900.1C1839.0 898.3 1837.9 890.5 1837.5 887.7C1837.2 884.8 1835.9 879.9 1836.2 877.1C1836.6 874.3 1838.9 867.7 1840.2 865.2C1841.5 862.8 1844.0 858.6 1846.8 857.3C1849.6 856.0 1859.3 855.4 1862.6 854.7C1865.9 854.0 1871.2 853.2 1873.1 852.1C1875.1 850.9 1876.8 846.5 1878.4 845.5C1880.1 844.5 1885.0 845.5 1886.3 844.1C1887.6 842.8 1888.1 837.4 1889.0 834.9C1889.8 832.4 1891.8 826.4 1892.9 824.4C1894.1 822.3 1896.4 819.4 1898.2 818.6C1900.0 817.7 1905.0 817.9 1907.4 817.8C1909.9 817.7 1915.8 817.1 1918.0 817.8C1920.1 818.4 1922.6 822.6 1924.6 823.0C1926.5 823.5 1931.2 821.5 1933.8 821.2C1936.4 820.9 1943.0 820.2 1945.7 820.4C1948.3 820.6 1952.6 822.9 1954.9 823.0C1957.2 823.2 1961.8 821.8 1964.1 821.7C1966.4 821.6 1970.9 821.9 1973.4 822.3C1975.8 822.7 1981.6 824.8 1983.9 824.9C1986.2 825.0 1990.3 824.4 1991.8 823.0C1993.3 821.7 1995.1 816.3 1995.8 813.8C1996.4 811.3 1996.8 805.4 1997.1 803.3C1997.4 801.1 1998.0 798.0 1998.4 796.7C1998.8 795.4 1999.9 793.4 2000.0 792.7C2000.0 792.1 1999.0 791.6 1998.9 791.4M1678.0 701.7C1678.2 702.6 1678.8 707.2 1679.3 708.3C1679.8 709.5 1681.0 711.5 1682.0 711.0C1682.9 710.5 1685.6 705.0 1687.2 704.4C1688.9 703.7 1694.0 704.9 1695.1 705.7C1696.3 706.5 1697.0 709.7 1696.5 711.0C1696.0 712.3 1691.7 714.6 1691.2 716.2C1690.7 717.9 1693.0 722.3 1692.5 724.2C1692.0 726.0 1687.7 728.9 1687.2 730.7C1686.7 732.6 1688.5 736.7 1688.5 738.7C1688.5 740.6 1686.4 745.4 1687.2 746.6C1688.0 747.7 1693.8 746.7 1695.1 747.9C1696.5 749.0 1697.2 753.8 1697.8 755.8C1698.3 757.8 1700.1 762.1 1699.6 763.7C1699.1 765.4 1694.4 767.3 1693.8 769.0C1693.3 770.6 1694.8 774.8 1695.1 776.9C1695.5 779.0 1697.1 784.3 1696.5 786.1C1695.8 787.9 1691.7 791.1 1689.9 791.4C1688.0 791.7 1683.8 789.8 1682.0 788.8C1680.1 787.8 1677.2 784.3 1675.4 783.5C1673.5 782.7 1669.1 781.8 1667.4 782.2C1665.8 782.5 1662.9 784.5 1662.2 786.1C1661.4 787.8 1661.5 793.2 1661.6 795.4C1661.8 797.5 1662.6 801.8 1663.5 803.3C1664.4 804.8 1669.3 806.2 1668.8 807.2C1668.3 808.2 1660.9 810.0 1659.5 811.2C1658.2 812.3 1657.9 815.3 1658.2 816.5C1658.5 817.6 1661.5 818.9 1662.2 820.4C1662.8 821.9 1662.5 827.2 1663.5 828.3C1664.5 829.5 1668.9 828.5 1670.1 829.6C1671.2 830.8 1671.9 835.6 1672.7 837.6C1673.5 839.5 1675.7 843.8 1676.7 845.5C1677.7 847.1 1680.5 849.1 1680.6 850.7C1680.8 852.4 1677.7 857.8 1678.0 858.6C1678.3 859.5 1681.8 856.8 1683.3 857.3C1684.8 857.8 1688.2 861.5 1689.9 862.6C1691.5 863.8 1695.1 866.5 1696.5 866.6C1697.8 866.7 1699.1 863.1 1700.4 863.4C1701.7 863.7 1705.4 867.6 1707.0 869.2C1708.7 870.7 1711.9 874.3 1713.6 875.8C1715.2 877.3 1718.2 880.6 1720.2 881.1C1722.2 881.6 1728.4 878.9 1729.4 879.7C1730.4 880.6 1728.6 885.8 1728.1 887.7C1727.6 889.5 1726.8 893.3 1725.5 894.3C1724.1 895.2 1719.0 894.8 1717.6 895.6C1716.1 896.3 1713.6 899.2 1713.6 900.1C1713.6 900.9 1716.8 902.0 1717.3 902.3M1662.2 820.4C1661.2 820.6 1656.4 821.4 1654.3 821.7C1652.1 822.1 1646.7 823.2 1645.0 823.0C1643.4 822.9 1642.4 820.1 1641.1 820.4C1639.8 820.7 1636.3 825.4 1634.5 825.7C1632.7 826.0 1628.1 824.0 1626.6 823.0C1625.1 822.1 1623.9 817.9 1622.6 817.8C1621.3 817.6 1617.7 821.6 1616.0 821.7C1614.4 821.9 1609.9 820.4 1609.4 819.1C1608.9 817.8 1611.4 813.2 1612.1 811.2C1612.7 809.2 1615.0 805.1 1614.7 803.3C1614.4 801.5 1610.4 798.3 1609.4 796.7C1608.4 795.0 1607.9 791.1 1606.8 790.1C1605.6 789.1 1601.2 789.8 1600.2 788.8C1599.2 787.8 1600.0 782.8 1598.9 782.2C1597.7 781.5 1592.9 783.0 1591.0 783.5C1589.0 784.0 1584.9 786.5 1583.1 786.1C1581.2 785.8 1578.1 782.2 1576.5 780.9C1574.8 779.5 1571.7 775.9 1569.9 775.6C1568.1 775.3 1563.9 777.2 1562.0 778.2C1560.0 779.2 1556.4 783.1 1554.1 783.5C1551.7 783.9 1546.1 782.2 1543.5 781.6C1540.9 781.1 1535.1 779.8 1533.0 779.0C1530.8 778.3 1528.3 775.8 1526.4 775.6C1524.4 775.3 1519.3 776.9 1517.1 776.9C1515.0 776.9 1511.2 775.4 1509.2 775.6C1507.2 775.7 1503.1 777.2 1501.3 778.2C1499.5 779.2 1496.7 782.8 1494.7 783.5C1492.7 784.2 1486.8 784.3 1485.5 783.5C1484.2 782.7 1484.5 776.6 1484.2 776.9C1483.8 777.2 1483.2 784.3 1482.8 786.1C1482.5 787.9 1481.2 790.1 1481.5 791.4C1481.9 792.7 1484.2 795.0 1485.5 796.7C1486.8 798.3 1492.1 803.3 1492.1 804.6C1492.1 805.9 1487.0 806.1 1485.5 807.2C1484.0 808.4 1480.2 812.3 1480.2 813.8C1480.2 815.3 1484.2 817.9 1485.5 819.1C1486.8 820.2 1490.3 821.2 1490.8 823.0C1491.3 824.9 1488.9 831.9 1489.4 833.6C1489.9 835.2 1494.2 834.8 1494.7 836.2C1495.2 837.7 1493.9 843.0 1493.4 845.5C1492.9 847.9 1491.3 853.9 1490.8 856.0C1490.3 858.2 1489.3 861.1 1489.4 862.6C1489.6 864.1 1492.4 866.9 1492.1 867.9C1491.7 868.9 1488.6 870.4 1486.8 870.5C1485.0 870.7 1480.0 869.7 1477.6 869.2C1475.1 868.7 1469.5 867.3 1467.0 866.6C1464.6 865.8 1460.1 863.3 1457.8 863.4C1455.5 863.5 1450.7 866.2 1448.6 867.1C1446.4 868.0 1443.0 869.8 1440.7 870.5C1438.3 871.3 1432.6 872.5 1430.1 873.2C1427.6 873.8 1423.0 875.2 1420.9 875.8C1418.7 876.4 1415.4 877.5 1413.0 877.6C1410.5 877.7 1403.9 877.1 1401.1 876.6C1398.3 876.0 1393.2 873.9 1390.5 873.2C1387.9 872.4 1381.3 870.6 1380.0 870.5C1378.7 870.5 1380.3 872.4 1380.3 872.6M1420.9 875.8C1421.0 877.3 1421.5 884.6 1422.2 887.7C1422.9 890.7 1425.9 898.4 1426.1 900.1C1426.4 901.7 1424.5 900.6 1424.3 900.6M1881.1 498.4C1881.0 498.6 1878.5 499.3 1880.2 500.0C1881.9 500.7 1891.6 502.1 1894.7 504.0C1897.8 505.8 1902.4 513.4 1905.2 514.5C1908.0 515.7 1914.8 514.2 1917.1 513.2C1919.4 512.2 1922.2 507.6 1923.7 506.6C1925.2 505.5 1927.8 504.3 1929.0 504.7C1930.1 505.2 1931.8 508.3 1932.9 510.5C1934.1 512.8 1936.5 520.4 1938.2 522.4C1939.8 524.5 1943.5 526.6 1946.1 526.9C1948.7 527.2 1956.3 525.1 1959.3 525.1C1962.3 525.0 1968.0 524.9 1969.8 526.4C1971.7 527.9 1972.6 534.9 1973.8 536.9C1975.0 538.9 1977.4 541.0 1979.1 542.2C1980.7 543.3 1984.8 544.5 1987.0 546.1C1989.1 547.8 1993.7 554.4 1996.2 555.4C1998.7 556.4 2004.3 555.2 2006.8 554.1C2009.2 552.9 2013.5 546.8 2016.0 546.1C2018.5 545.5 2024.2 548.1 2026.5 548.8C2028.8 549.4 2033.5 551.1 2034.5 551.4M2034.5 554.1C2033.1 554.7 2025.6 557.7 2023.9 559.3C2022.2 561.0 2020.7 565.1 2020.7 567.2C2020.7 569.4 2022.2 574.0 2023.9 576.5C2025.6 578.9 2033.1 585.7 2034.5 587.0M2034.5 601.5C2032.8 603.0 2024.1 611.1 2021.3 613.4C2018.5 615.7 2013.5 618.0 2012.0 620.0C2010.6 622.0 2010.9 627.4 2009.4 629.2C2007.9 631.0 2002.5 633.7 2000.2 634.5C1997.9 635.3 1993.1 635.5 1990.9 635.8C1988.8 636.1 1983.9 636.1 1983.0 637.1C1982.2 638.1 1983.5 642.1 1984.3 643.7C1985.2 645.4 1988.5 648.7 1989.6 650.3C1990.8 652.0 1991.9 655.9 1993.6 656.9C1995.2 657.9 2000.7 657.9 2002.8 658.2C2004.9 658.6 2009.1 658.9 2010.7 659.5C2012.4 660.2 2014.7 663.7 2016.0 663.5C2017.3 663.3 2020.4 658.1 2021.3 658.2C2022.1 658.4 2022.9 663.3 2022.6 664.8C2022.3 666.3 2020.1 669.1 2018.6 670.1C2017.1 671.1 2012.7 672.9 2010.7 672.7C2008.7 672.6 2004.9 669.1 2002.8 668.8C2000.7 668.4 1995.6 669.1 1993.6 670.1C1991.6 671.1 1988.1 674.7 1987.0 676.7C1985.8 678.7 1985.0 683.6 1984.3 685.9C1983.7 688.2 1982.4 692.8 1981.7 695.1C1981.0 697.5 1977.6 703.1 1978.5 704.4C1979.5 705.7 1987.1 705.2 1989.6 705.7C1992.2 706.2 1997.2 706.8 1998.9 708.3C2000.5 709.8 2002.6 716.2 2002.8 717.6C2003.0 718.9 2000.0 717.7 2000.2 718.9C2000.3 720.0 2003.1 724.5 2004.1 726.8C2005.1 729.1 2008.9 734.7 2008.1 737.3C2007.3 740.0 1997.7 745.9 1997.5 747.9C1997.4 749.9 2004.5 752.8 2006.8 753.2C2009.1 753.5 2014.8 749.7 2016.0 750.5C2017.2 751.4 2017.2 757.8 2016.5 759.8C2015.9 761.7 2012.3 764.5 2010.7 766.4C2009.2 768.2 2005.4 772.1 2004.1 774.3C2002.8 776.4 2000.8 781.3 2000.2 783.5C1999.5 785.6 1999.8 790.2 1998.9 791.4C1997.9 792.6 1992.4 792.1 1992.3 792.7C1992.1 793.4 1997.2 794.7 1997.5 796.7C1997.9 798.7 1995.4 805.7 1994.9 808.5C1994.4 811.3 1994.2 817.0 1993.6 819.1C1992.9 821.2 1990.2 825.1 1989.6 825.7C1989.1 826.3 1989.2 823.9 1989.1 823.7M1660.1 988.9C1661.2 988.6 1666.9 986.7 1668.8 986.3C1670.7 985.8 1673.2 984.3 1675.4 984.9C1677.5 985.6 1684.8 989.7 1685.9 991.5C1687.1 993.3 1685.6 997.6 1684.6 999.4C1683.6 1001.3 1678.2 1005.0 1678.0 1006.0C1677.8 1007.0 1682.0 1008.7 1683.3 1007.4C1684.6 1006.0 1687.4 998.6 1688.5 995.5C1689.7 992.4 1690.9 984.8 1692.5 982.3C1694.1 979.8 1699.3 977.4 1701.7 975.7C1704.2 974.1 1709.3 970.9 1712.3 969.1C1715.2 967.3 1722.8 962.0 1725.5 961.2C1728.1 960.4 1731.7 961.2 1733.4 962.5C1735.0 963.8 1737.5 971.1 1738.6 971.8C1739.8 972.4 1741.3 969.8 1742.6 967.8C1743.9 965.8 1747.4 958.9 1749.2 955.9C1751.0 953.0 1755.0 946.4 1757.1 944.1C1759.3 941.8 1763.4 938.0 1766.3 937.5C1769.3 936.9 1777.4 939.7 1780.8 939.6C1784.3 939.4 1791.1 936.4 1794.0 936.1C1797.0 935.9 1801.9 937.1 1804.6 937.5C1807.2 937.8 1813.1 937.5 1815.1 938.8C1817.1 940.1 1819.1 947.0 1820.4 948.0C1821.7 949.0 1824.0 948.0 1825.7 946.7C1827.3 945.4 1832.9 939.6 1833.6 937.5C1834.2 935.3 1830.9 931.7 1830.9 929.6C1830.9 927.4 1832.3 922.3 1833.6 920.3C1834.9 918.3 1840.7 915.4 1841.5 913.7C1842.3 912.1 1841.2 909.1 1840.2 907.1C1839.2 905.2 1833.8 900.1 1833.6 897.9C1833.4 895.8 1838.2 891.0 1838.9 890.0M1728.1 890.0C1727.4 890.8 1724.1 895.1 1722.8 896.6C1721.5 898.1 1718.7 900.4 1717.6 901.9C1716.4 903.4 1715.7 908.1 1713.6 908.5C1711.5 908.8 1702.4 904.2 1700.4 904.5C1698.4 904.8 1697.8 909.3 1697.8 911.1C1697.8 912.9 1701.1 917.7 1700.4 919.0C1699.8 920.3 1692.5 920.3 1692.5 921.6C1692.5 923.0 1698.8 927.4 1700.4 929.6C1702.1 931.7 1704.4 937.0 1705.7 938.8C1707.0 940.6 1709.3 943.1 1711.0 944.1C1712.6 945.1 1718.0 945.4 1718.9 946.7C1719.7 948.0 1718.7 953.0 1717.6 954.6C1716.4 956.3 1710.8 958.4 1709.6 959.9C1708.5 961.4 1708.0 965.3 1708.3 966.5C1708.7 967.6 1711.8 968.8 1712.3 969.1M1303.9 1151.4C1302.6 1152.1 1295.9 1155.4 1293.4 1156.7C1290.9 1158.0 1286.1 1160.7 1284.2 1162.0C1282.2 1163.3 1278.9 1165.6 1277.6 1167.2C1276.3 1168.9 1274.9 1174.0 1273.6 1175.2C1272.3 1176.3 1268.8 1175.8 1267.0 1176.5C1265.2 1177.1 1261.3 1179.1 1259.1 1180.4C1257.0 1181.8 1252.0 1185.4 1249.9 1187.0C1247.7 1188.7 1243.3 1191.8 1242.0 1193.6C1240.7 1195.4 1239.3 1199.6 1239.3 1201.5C1239.3 1203.5 1240.7 1208.0 1242.0 1209.4C1243.3 1210.9 1247.7 1213.1 1249.9 1213.4C1252.0 1213.7 1257.1 1212.9 1259.1 1212.1C1261.1 1211.3 1263.9 1207.5 1265.7 1206.8C1267.5 1206.1 1271.3 1206.6 1273.6 1206.8C1275.9 1207.0 1281.9 1207.3 1284.2 1208.1C1286.5 1208.9 1290.1 1211.9 1292.1 1213.4C1294.1 1214.9 1298.2 1218.2 1300.0 1220.0C1301.8 1221.8 1304.9 1226.3 1306.6 1227.9C1308.2 1229.5 1311.5 1232.0 1313.2 1233.2C1314.8 1234.3 1318.1 1237.0 1319.8 1237.1C1321.4 1237.3 1324.5 1235.0 1326.4 1234.5C1328.2 1234.0 1332.3 1232.7 1334.3 1233.2C1336.2 1233.7 1340.2 1237.0 1342.2 1238.4C1344.2 1239.9 1348.6 1242.9 1350.1 1245.0C1351.6 1247.2 1353.4 1253.0 1354.1 1255.6C1354.7 1258.2 1354.9 1263.7 1355.4 1266.1C1355.9 1268.6 1358.0 1273.2 1358.0 1275.4C1358.0 1277.5 1356.4 1282.0 1355.4 1283.3C1354.4 1284.6 1351.1 1284.3 1350.1 1285.9C1349.1 1287.6 1347.6 1293.7 1347.5 1296.5C1347.3 1299.3 1348.4 1305.5 1348.8 1308.3C1349.1 1311.1 1350.6 1316.9 1350.1 1318.9C1349.6 1320.9 1346.3 1323.3 1344.8 1324.2C1343.3 1325.0 1339.9 1325.0 1338.2 1325.5C1336.6 1326.0 1332.0 1327.1 1331.6 1328.1C1331.3 1329.1 1334.3 1332.2 1335.6 1333.4C1336.9 1334.5 1340.7 1336.4 1342.2 1337.3C1343.7 1338.3 1346.0 1340.8 1347.5 1341.3C1348.9 1341.8 1352.7 1340.5 1354.1 1341.3C1355.4 1342.1 1356.9 1346.4 1358.0 1347.9C1359.2 1349.4 1361.8 1352.2 1363.3 1353.2C1364.8 1354.2 1367.7 1355.1 1369.9 1355.8C1372.0 1356.5 1377.8 1358.3 1380.4 1358.4C1383.1 1358.6 1388.2 1357.6 1391.0 1357.1C1393.8 1356.6 1400.2 1355.5 1402.8 1354.5C1405.5 1353.5 1410.4 1350.7 1412.1 1349.2C1413.7 1347.7 1414.5 1343.9 1416.0 1342.6C1417.5 1341.3 1422.3 1339.8 1423.9 1338.7C1425.6 1337.5 1428.1 1334.5 1429.2 1333.4C1430.4 1332.2 1432.3 1330.9 1433.2 1329.4C1434.0 1327.9 1435.0 1323.5 1435.8 1321.5C1436.6 1319.5 1438.6 1315.4 1439.8 1313.6C1440.9 1311.8 1443.4 1308.3 1445.0 1307.0C1446.7 1305.7 1450.8 1304.0 1452.9 1303.1C1455.1 1302.1 1459.9 1300.3 1462.2 1299.1C1464.5 1297.9 1469.4 1294.8 1471.4 1293.8C1473.4 1292.8 1476.2 1291.4 1478.0 1291.2C1479.8 1291.0 1484.3 1292.7 1485.9 1292.5C1487.6 1292.3 1489.7 1290.4 1491.2 1289.9C1492.7 1289.4 1496.3 1288.1 1497.8 1288.6C1499.3 1289.0 1501.7 1293.0 1503.0 1293.8C1504.4 1294.7 1507.2 1296.0 1508.3 1295.1C1509.5 1294.3 1511.3 1289.2 1512.3 1287.2C1513.3 1285.3 1514.9 1280.6 1516.2 1279.3C1517.6 1278.0 1521.5 1278.0 1522.8 1276.7C1524.1 1275.4 1525.5 1269.9 1526.8 1268.8C1528.1 1267.6 1531.9 1267.1 1533.4 1267.5C1534.9 1267.8 1538.0 1271.7 1538.6 1271.4C1539.3 1271.1 1538.5 1266.5 1538.6 1264.8C1538.8 1263.2 1539.3 1260.0 1540.0 1258.2C1540.6 1256.4 1542.1 1252.0 1543.9 1250.3C1545.7 1248.7 1551.8 1245.7 1554.5 1245.0C1557.1 1244.4 1562.4 1244.4 1565.0 1245.0C1567.7 1245.7 1573.3 1248.7 1575.6 1250.3C1577.9 1252.0 1582.0 1256.4 1583.5 1258.2C1585.0 1260.0 1585.6 1264.3 1587.4 1264.8C1589.2 1265.3 1595.8 1262.5 1598.0 1262.2C1600.1 1261.9 1603.1 1263.0 1604.6 1262.2C1606.1 1261.4 1608.0 1256.1 1609.9 1255.6C1611.7 1255.1 1616.8 1257.7 1619.1 1258.2C1621.4 1258.7 1626.7 1259.9 1628.3 1259.5C1630.0 1259.2 1630.6 1256.2 1632.3 1255.6C1633.9 1255.0 1639.2 1255.7 1641.5 1255.1C1643.8 1254.4 1650.1 1251.9 1650.7 1250.3C1651.4 1248.7 1647.6 1244.7 1646.8 1242.4C1645.9 1240.1 1644.1 1234.5 1644.1 1231.9C1644.1 1229.2 1645.5 1223.3 1646.8 1221.3C1648.1 1219.3 1653.7 1217.5 1654.7 1216.0C1655.7 1214.6 1653.7 1210.1 1654.7 1209.4C1655.7 1208.8 1660.8 1210.8 1662.6 1210.8C1664.4 1210.8 1668.5 1210.8 1669.2 1209.4C1669.8 1208.1 1668.7 1201.9 1667.9 1200.2C1667.0 1198.6 1664.2 1197.1 1662.6 1196.3C1660.9 1195.4 1657.0 1194.1 1654.7 1193.6C1652.4 1193.1 1646.8 1192.8 1644.1 1192.3C1641.5 1191.8 1636.2 1189.8 1633.6 1189.7C1630.9 1189.5 1625.5 1190.5 1623.0 1191.0C1620.6 1191.5 1615.6 1192.5 1613.8 1193.6C1612.0 1194.8 1609.1 1199.3 1608.5 1200.2C1608.0 1201.1 1609.4 1200.8 1609.6 1200.9M1350.1 1285.9C1350.8 1286.2 1353.7 1287.6 1355.4 1288.6C1357.0 1289.5 1362.1 1292.3 1363.3 1293.8C1364.4 1295.3 1365.4 1298.9 1364.6 1300.4C1363.8 1301.9 1357.5 1304.0 1356.7 1305.7C1355.9 1307.3 1356.7 1312.5 1358.0 1313.6C1359.3 1314.8 1365.6 1313.8 1367.2 1314.9C1368.9 1316.1 1371.0 1320.9 1371.2 1322.8C1371.4 1324.8 1368.2 1329.4 1368.6 1330.7C1368.9 1332.1 1372.5 1331.9 1373.8 1333.4C1375.1 1334.9 1378.1 1340.5 1379.1 1342.6C1380.1 1344.8 1382.9 1349.1 1381.7 1350.5C1380.6 1351.9 1371.4 1353.1 1369.9 1353.7C1368.3 1354.3 1369.2 1355.3 1369.1 1355.5"/>
<path fill="none" stroke="#000" stroke-width="5.6" stroke-linejoin="round" stroke-linecap="round" d="M1132.4 983.1C1132.7 983.9 1134.3 988.3 1135.0 989.7C1135.8 991.0 1137.7 993.4 1138.1 993.9M1150.2 979.1C1149.5 980.3 1145.6 986.0 1144.3 988.3C1143.0 990.7 1140.7 995.4 1139.7 997.6C1138.7 999.7 1136.8 1004.5 1136.4 1005.5M1187.8 950.8C1187.0 950.6 1183.3 949.7 1181.9 949.4C1180.5 949.2 1177.7 949.1 1176.6 948.8C1175.5 948.5 1173.6 947.6 1173.3 946.8C1173.0 946.0 1173.5 943.3 1173.9 942.2C1174.4 941.1 1176.2 939.2 1176.6 938.2C1177.0 937.2 1177.6 935.3 1177.2 934.3C1176.9 933.3 1174.7 931.4 1173.9 930.3C1173.2 929.3 1172.0 926.9 1171.3 925.7C1170.6 924.6 1169.7 922.1 1168.7 921.1C1167.7 920.1 1164.3 918.6 1163.4 917.8C1162.5 917.0 1161.4 915.3 1161.4 914.5C1161.4 913.7 1163.1 911.6 1163.4 911.2M1272.8 970.5C1273.7 970.7 1277.6 971.6 1279.4 971.9C1281.2 972.1 1286.4 972.4 1287.3 972.5M1238.6 1014.7C1239.5 1014.1 1244.7 1011.0 1246.5 1010.1C1248.3 1009.2 1251.7 1008.0 1253.1 1007.5C1254.4 1006.9 1257.2 1004.7 1257.0 1005.5C1256.8 1006.2 1253.2 1012.1 1251.7 1013.4C1250.3 1014.7 1246.0 1015.7 1245.1 1016.0M1139.0 1015.4C1139.4 1016.0 1141.2 1018.8 1142.3 1020.0C1143.4 1021.2 1146.9 1024.6 1147.6 1025.3M1139.7 1049.0C1139.8 1049.8 1140.3 1053.8 1141.0 1055.6C1141.6 1057.4 1143.3 1061.9 1144.9 1063.5C1146.6 1065.1 1151.5 1067.1 1154.2 1068.1C1156.8 1069.1 1162.9 1070.5 1166.0 1071.4C1169.2 1072.3 1175.9 1074.5 1179.2 1075.4C1182.5 1076.3 1189.6 1077.9 1192.4 1078.7C1195.2 1079.4 1199.8 1080.6 1201.6 1081.3C1203.4 1082.0 1206.2 1083.6 1206.9 1083.9M1253.1 1096.2C1255.7 1096.6 1268.9 1098.9 1274.2 1099.8C1279.4 1100.6 1292.0 1102.5 1295.3 1102.8C1298.5 1103.1 1299.9 1102.4 1300.5 1102.4M993.6 1134.6C993.9 1133.3 995.6 1124.6 996.2 1124.1C996.9 1123.6 998.6 1129.8 998.9 1130.7M1519.4 1027.1C1519.2 1027.7 1517.4 1030.4 1517.5 1031.7C1517.5 1033.1 1519.8 1036.9 1520.1 1037.7"/>
<path fill="none" stroke="#b0b0b0" stroke-width="3" shape-rendering="crispEdges" d="M364.5 116.4V1360.4M570.5 116.4V1360.4M777.5 116.4V1360.4M984.5 116.4V1360.4M1190.5 116.4V1360.4M1397.5 116.4V1360.4M1604.5 116.4V1360.4M1810.5 116.4V1360.4M2017.5 116.4V1360.4M170.4 1263.5H2030.5M170.4 1107.5H2030.5M170.4 952.5H2030.5M170.4 796.5H2030.5M170.4 641.5H2030.5M170.4 485.5H2030.5M170.4 330.5H2030.5M170.4 174.5H2030.5"/>
</g>
<rect x="170.5" y="116.5" width="1860" height="1244" fill="none" stroke="#000" stroke-width="3" shape-rendering="crispEdges"/>
<path fill="none" stroke="#000" stroke-width="3" shape-rendering="crispEdges" d="M364.5 1360.5v15M570.5 1360.5v15M777.5 1360.5v15M984.5 1360.5v15M1190.5 1360.5v15M1397.5 1360.5v15M1604.5 1360.5v15M1810.5 1360.5v15M2017.5 1360.5v15M170.5 1263.5h-15M170.5 1107.5h-15M170.5 952.5h-15M170.5 796.5h-15M170.5 641.5h-15M170.5 485.5h-15M170.5 330.5h-15M170.5 174.5h-15"/>
<text x="364.16" y="1419.8" font-size="41.67" text-anchor="middle">24</text>
<text x="570.84" y="1419.8" font-size="41.67" text-anchor="middle">26</text>
<text x="777.52" y="1419.8" font-size="41.67" text-anchor="middle">28</text>
<text x="984.19" y="1419.8" font-size="41.67" text-anchor="middle">30</text>
<text x="1190.87" y="1419.8" font-size="41.67" text-anchor="middle">32</text>
<text x="1397.55" y="1419.8" font-size="41.67" text-anchor="middle">34</text>
<text x="1604.23" y="1419.8" font-size="41.67" text-anchor="middle">36</text>
<text x="1810.90" y="1419.8" font-size="41.67" text-anchor="middle">38</text>
<text x="2017.58" y="1419.8" font-size="41.67" text-anchor="middle">40</text>
<text x="139.5" y="1278.41" font-size="41.67" text-anchor="end">45</text>
<text x="139.5" y="1122.91" font-size="41.67" text-anchor="end">46</text>
<text x="139.5" y="967.41" font-size="41.67" text-anchor="end">47</text>
<text x="139.5" y="811.91" font-size="41.67" text-anchor="end">48</text>
<text x="139.5" y="656.41" font-size="41.67" text-anchor="end">49</text>
<text x="139.5" y="500.91" font-size="41.67" text-anchor="end">50</text>
<text x="139.5" y="345.41" font-size="41.67" text-anchor="end">51</text>
<text x="139.5" y="189.91" font-size="41.67" text-anchor="end">52</text>
<text x="1100.45" y="1477.6" font-size="41.67" text-anchor="middle">longitude [degrees_east]</text>
<text transform="translate(60.5 738.40) rotate(-90)" font-size="41.67" text-anchor="middle">latitude [degrees_north]</text>
<text x="1100.45" y="91.9" font-size="66.67" text-anchor="middle">UA-FIRE ERC Percentile Forecast (2024-12-20)</text>
<rect x="2146.5" y="45.50" width="69.00" height="277.70" fill="#a50026"/>
<rect x="2146.5" y="322.70" width="69.00" height="277.70" fill="#f98e52"/>
<rect x="2146.5" y="599.90" width="69.00" height="277.70" fill="#feffc0"/>
<rect x="2146.5" y="877.10" width="69.00" height="277.70" fill="#8ec2dc"/>
<rect x="2146.5" y="1154.30" width="69.00" height="277.70" fill="#313695"/>
<rect x="2146.5" y="45.5" width="69.00" height="1386.00" fill="none" stroke="#000" stroke-width="3" shape-rendering="crispEdges"/>
<text x="2244.5" y="60.70" font-size="41.67">100</text>
<text x="2244.5" y="337.90" font-size="41.67">97</text>
<text x="2244.5" y="615.10" font-size="41.67">90</text>
<text x="2244.5" y="892.30" font-size="41.67">80</text>
<text x="2244.5" y="1169.50" font-size="41.67">50</text>
<text x="2244.5" y="1446.70" font-size="41.67">0</text>
<path fill="none" stroke="#000" stroke-width="3" shape-rendering="crispEdges" d="M2215.5 45.5h15M2215.5 322.5h15M2215.5 599.5h15M2215.5 877.5h15M2215.5 1154.5h15M2215.5 1431.5h15"/>
</svg>
</body></html>
